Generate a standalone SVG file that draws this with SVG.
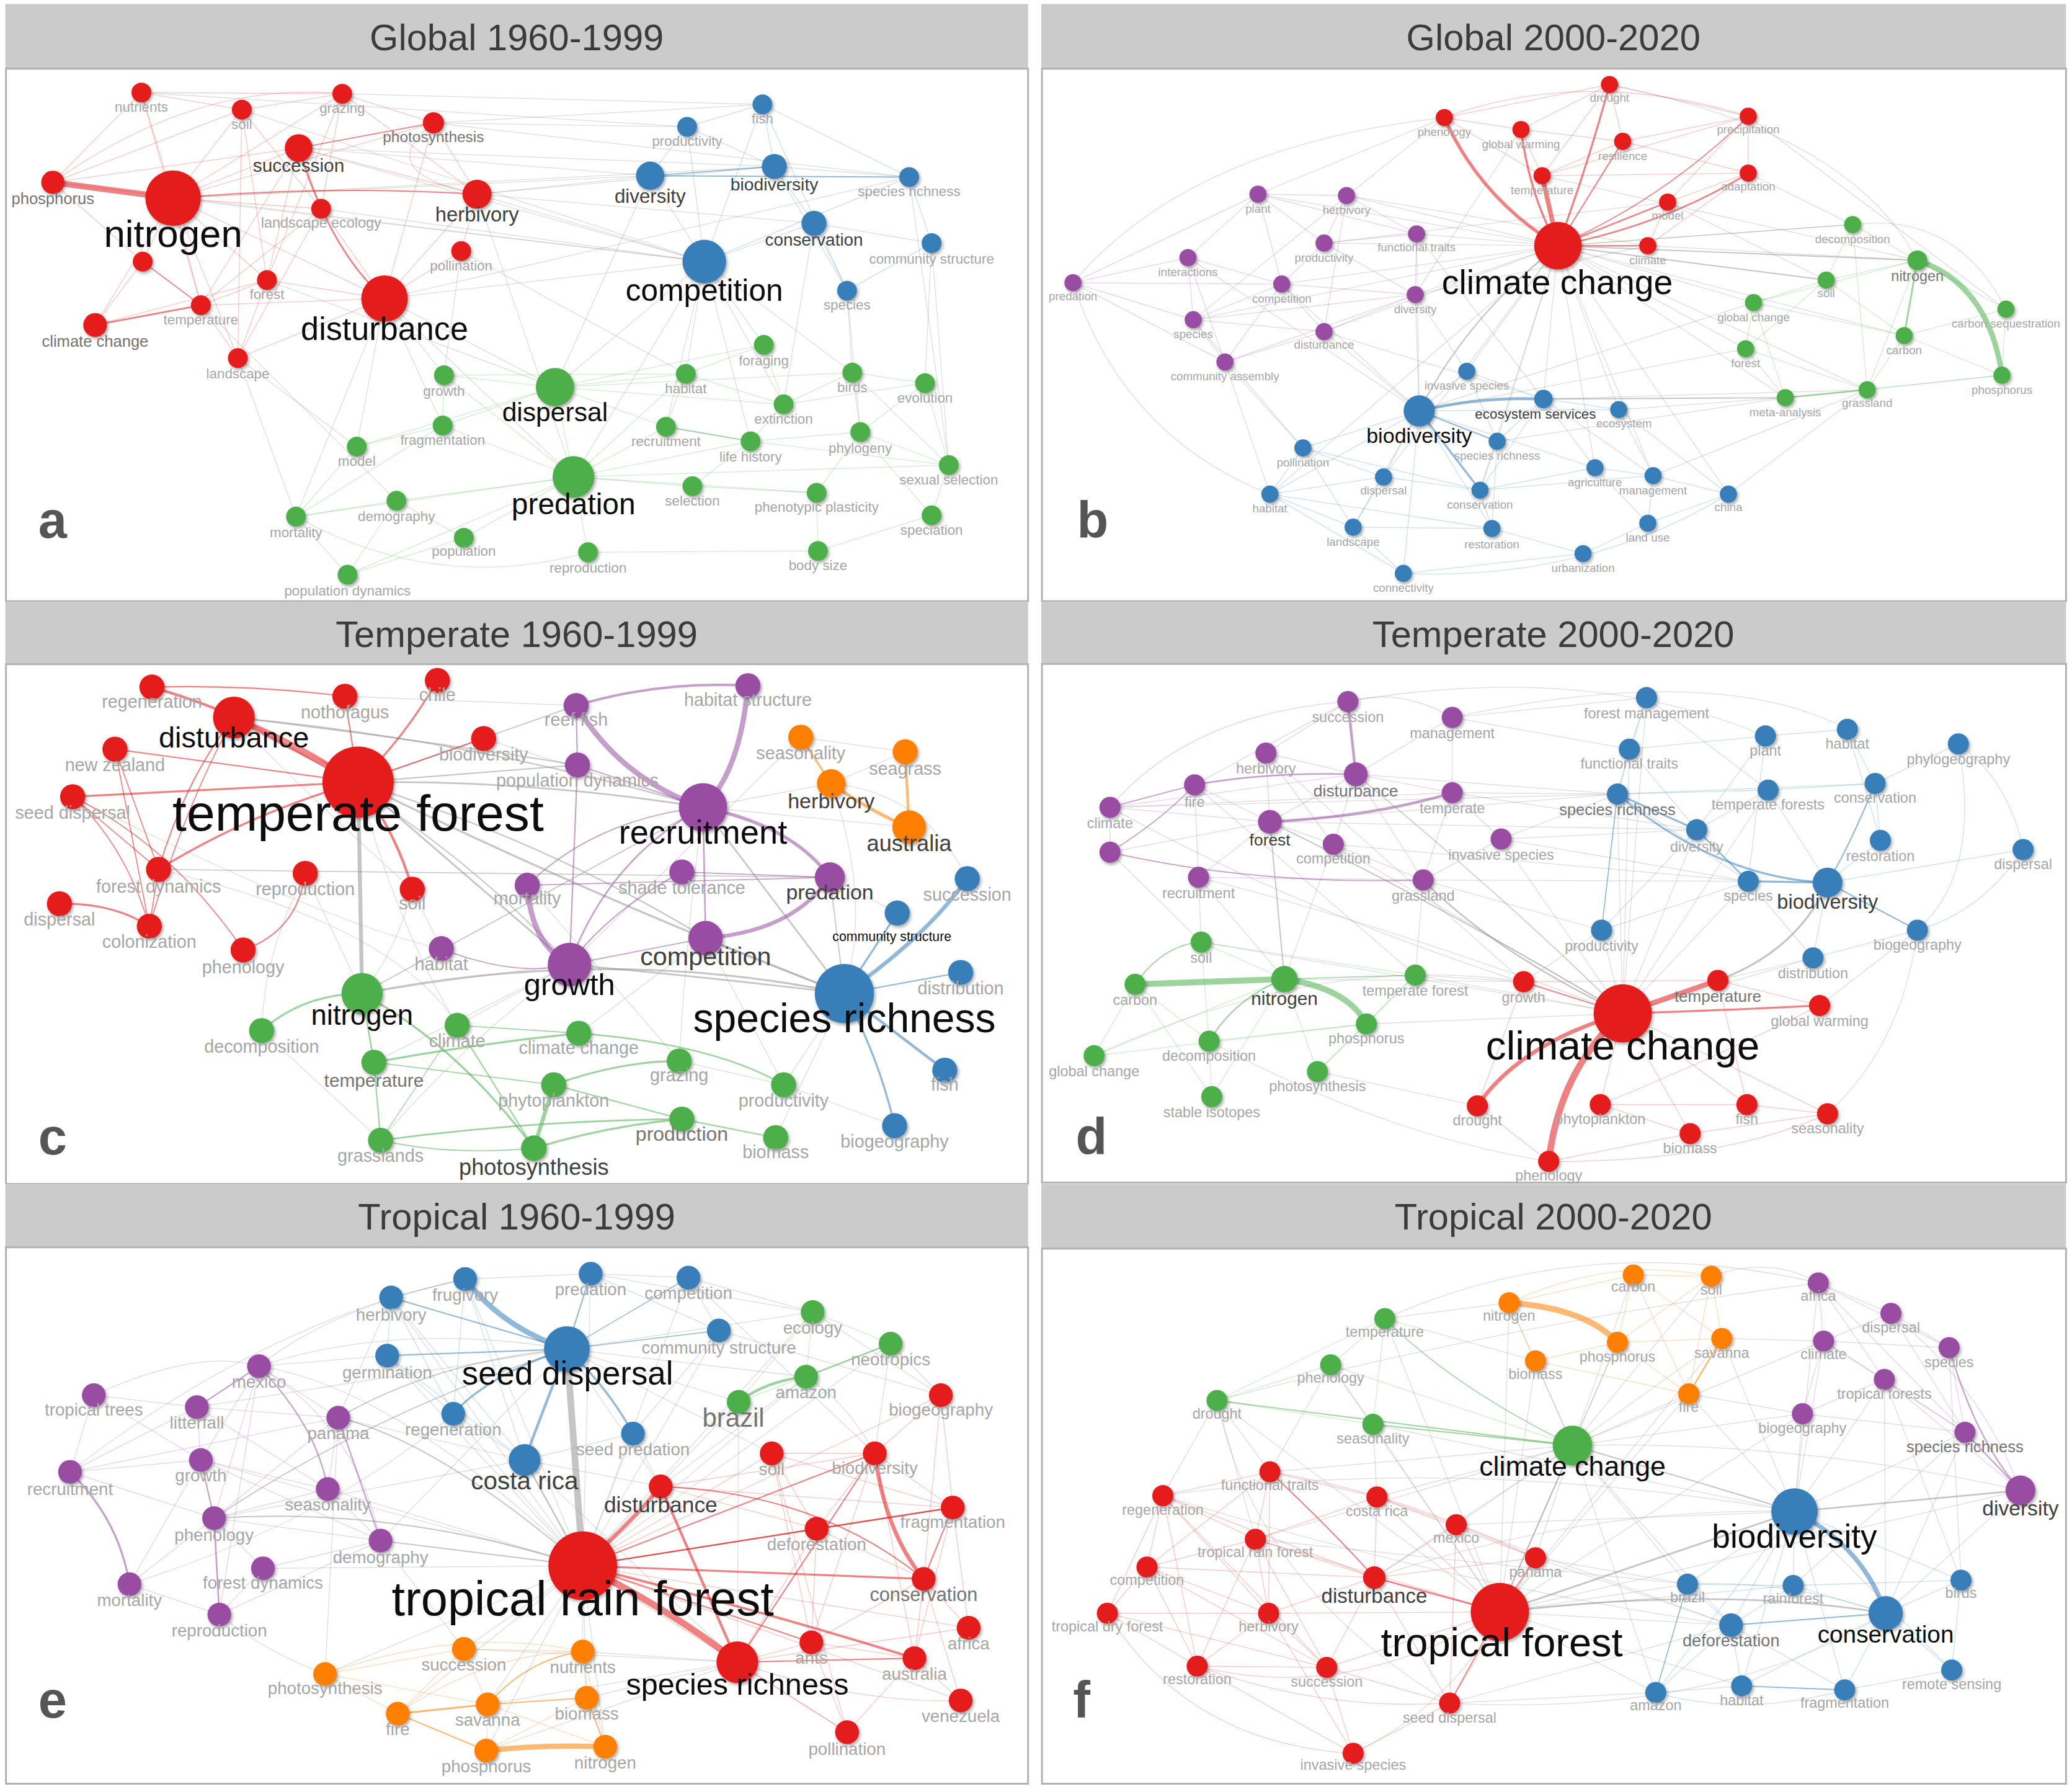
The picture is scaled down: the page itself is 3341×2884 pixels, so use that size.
<svg xmlns="http://www.w3.org/2000/svg" width="3341" height="2884" viewBox="0 0 3341 2884">
<defs>
<filter id="sh" x="-60%" y="-60%" width="220%" height="220%"><feDropShadow dx="1" dy="1.4" stdDeviation="1.2" flood-color="#000" flood-opacity="0.35"/></filter>
<style>
text{font-family:"Liberation Sans",Arial,Helvetica,sans-serif;text-anchor:middle}
.hd{fill:#cbcbcb}
.bd{fill:#fff;stroke:#b2b2b2;stroke-width:1.4}
.tt{font-size:28px;fill:#3b3b3b}
.pl{font-size:39px;font-weight:bold;fill:#555;text-anchor:start}
.n{filter:url(#sh)}
.r{fill:#e41a1c}.b{fill:#377eb8}.g{fill:#4daf4a}.p{fill:#984ea3}.o{fill:#ff7f00}
.l{fill:#a6a6a6}.m{fill:#747474}.d{fill:#404040}.k{fill:#0d0d0d}
.E path{fill:none;stroke-linecap:round}
.er{stroke:#e41a1c;stroke-opacity:.25;stroke-width:.6}
.eb{stroke:#377eb8;stroke-opacity:.25;stroke-width:.6}
.eg{stroke:#4daf4a;stroke-opacity:.25;stroke-width:.6}
.ep{stroke:#984ea3;stroke-opacity:.25;stroke-width:.6}
.eo{stroke:#ff7f00;stroke-opacity:.28;stroke-width:.6}
.ek{stroke:#808080;stroke-opacity:.27;stroke-width:.6}
.sr{stroke:#e41a1c;stroke-opacity:.55}
.sb{stroke:#377eb8;stroke-opacity:.55}
.sg{stroke:#4daf4a;stroke-opacity:.55}
.sp{stroke:#984ea3;stroke-opacity:.55}
.so{stroke:#ff7f00;stroke-opacity:.55}
.sk{stroke:#8c8c8c;stroke-opacity:.5}
.fa{font-size:10.5px}.fb{font-size:8.8px}.fc{font-size:13.5px}.fd{font-size:11px}.fe{font-size:13px}.ff{font-size:11px}
</style>
</defs>
<rect x="0" y="0" width="3341" height="2884" fill="#fff"/>
<g transform="scale(2.13074 2.13)">

<g id="frames">
<g id="frame-a"><rect class="hd" x="4" y="3" width="774" height="49"/><rect class="bd" x="4.5" y="52" width="773.5" height="403"/><text class="tt" x="391" y="38">Global 1960-1999</text></g>
<g id="frame-b"><rect class="hd" x="788" y="3" width="775.5" height="49"/><rect class="bd" x="788.5" y="52" width="775" height="403"/><text class="tt" x="1175.5" y="38">Global 2000-2020</text></g>
<g id="frame-c"><rect class="hd" x="4" y="455.5" width="774" height="47.2"/><rect class="bd" x="4.5" y="502.7" width="773.5" height="393.3"/><text class="tt" x="391" y="489.5">Temperate 1960-1999</text></g>
<g id="frame-d"><rect class="hd" x="788" y="455.5" width="775.5" height="47"/><rect class="bd" x="788.5" y="502.5" width="775" height="392.5"/><text class="tt" x="1175.5" y="489.5">Temperate 2000-2020</text></g>
<g id="frame-e"><rect class="hd" x="4" y="896" width="774" height="48"/><rect class="bd" x="4.5" y="944" width="773.5" height="406"/><text class="tt" x="391" y="930.5">Tropical 1960-1999</text></g>
<g id="frame-f"><rect class="hd" x="788" y="896" width="775.5" height="49"/><rect class="bd" x="788.5" y="945" width="775" height="405"/><text class="tt" x="1175.5" y="930.5">Tropical 2000-2020</text></g>
</g>

<!-- ================= PANEL A ================= -->
<g id="a-edges" class="E">
<path class="er" d="M131,150L107,70"/><path class="er" d="M131,150L183,83"/><path class="er" d="M131,150L259,71"/><path class="er" d="M131,150L243,158"/><path class="er" d="M131,150L108,198"/><path class="er" d="M131,150L202,212"/><path class="er" d="M131,150L152,231"/><path class="er" d="M131,150L72,246"/><path class="er" d="M131,150L291,226"/><path class="er" d="M131,150L180,271"/><path class="er" d="M131,150L226,112"/><path class="er" d="M131,150L328,93"/>
<path class="er" d="M40,138L107,70"/><path class="er" d="M40,138L183,83"/><path class="er" d="M40,138L108,198"/><path class="er" d="M40,138L226,112"/><path class="er" d="M40,138Q150,60 259,71"/>
<path class="er" d="M107,70L183,83"/><path class="er" d="M107,70L259,71"/><path class="er" d="M107,70L152,231"/><path class="er" d="M183,83L259,71"/><path class="er" d="M183,83L243,158"/><path class="er" d="M183,83L202,212"/><path class="er" d="M183,83L180,271"/><path class="er" d="M259,71L328,93"/><path class="er" d="M259,71L361,147"/><path class="er" d="M259,71L243,158"/><path class="er" d="M259,71L202,212"/><path class="er" d="M328,93L361,147"/><path class="er" d="M328,93L291,226"/><path class="er" d="M226,112L243,158"/><path class="er" d="M226,112L361,147"/><path class="er" d="M226,112L202,212"/><path class="er" d="M226,112L152,231"/><path class="er" d="M243,158L291,226"/><path class="er" d="M243,158L180,271"/><path class="er" d="M243,158L152,231"/><path class="er" d="M361,147L349,190"/><path class="er" d="M361,147L291,226"/><path class="er" d="M291,226L202,212"/><path class="er" d="M291,226L152,231"/><path class="er" d="M291,226L180,271"/><path class="er" d="M291,226L349,190"/><path class="er" d="M202,212L152,231"/><path class="er" d="M202,212L180,271"/><path class="er" d="M108,198L72,246"/><path class="er" d="M152,231L180,271"/><path class="er" d="M72,246L202,212"/><path class="er" d="M328,93Q280,130 361,147"/>
<path class="eb" d="M492,133L520,96"/><path class="eb" d="M520,96L577,79"/><path class="eb" d="M577,79L586,126"/><path class="eb" d="M586,126L616,169"/><path class="eb" d="M586,126L688,134"/><path class="eb" d="M616,169L533,198"/><path class="eb" d="M616,169L705,184"/><path class="eb" d="M688,134L705,184"/><path class="eb" d="M705,184L641,220"/><path class="eb" d="M616,169L641,220"/><path class="eb" d="M533,198L492,133"/><path class="eb" d="M533,198L520,96"/><path class="eb" d="M533,198L577,79"/><path class="eb" d="M586,126L641,220"/><path class="eb" d="M577,79L688,134"/><path class="eb" d="M577,79L641,220"/><path class="eb" d="M520,96L586,126"/><path class="eb" d="M533,198L688,134"/>
<path class="eg" d="M420,293L336,284"/><path class="eg" d="M420,293L335,322"/><path class="eg" d="M420,293L519,283"/><path class="eg" d="M420,293L504,323"/><path class="eg" d="M420,293L434,361"/><path class="eg" d="M420,293L270,338"/><path class="eg" d="M420,293L593,306"/><path class="eg" d="M420,293L578,261"/><path class="eg" d="M420,293L645,282"/><path class="eg" d="M434,361L504,323"/><path class="eg" d="M434,361L568,334"/><path class="eg" d="M434,361L524,368"/><path class="eg" d="M434,361L445,418"/><path class="eg" d="M434,361L224,391"/><path class="eg" d="M434,361L300,379"/><path class="eg" d="M434,361L351,407"/><path class="eg" d="M434,361L263,435"/><path class="eg" d="M434,361L519,283"/><path class="eg" d="M434,361L718,352"/><path class="eg" d="M434,361L618,373"/><path class="eg" d="M434,361L335,322"/><path class="eg" d="M434,361L336,284"/><path class="eg" d="M336,284L335,322"/><path class="eg" d="M335,322L270,338"/><path class="eg" d="M270,338L224,391"/><path class="eg" d="M224,391L300,379"/><path class="eg" d="M224,391L263,435"/><path class="eg" d="M300,379L263,435"/><path class="eg" d="M300,379L351,407"/><path class="eg" d="M351,407L263,435"/><path class="eg" d="M224,391L335,322"/><path class="eg" d="M519,283L504,323"/><path class="eg" d="M519,283L593,306"/><path class="eg" d="M568,334L593,306"/><path class="eg" d="M568,334L651,327"/><path class="eg" d="M593,306L578,261"/><path class="eg" d="M593,306L645,282"/><path class="eg" d="M593,306L700,290"/><path class="eg" d="M645,282L700,290"/><path class="eg" d="M645,282L651,327"/><path class="eg" d="M700,290L651,327"/><path class="eg" d="M700,290L718,352"/><path class="eg" d="M718,352L705,390"/><path class="eg" d="M651,327L718,352"/><path class="eg" d="M651,327L618,373"/><path class="eg" d="M618,373L524,368"/><path class="eg" d="M618,373L619,417"/><path class="eg" d="M619,417L705,390"/><path class="eg" d="M524,368L568,334"/><path class="eg" d="M619,417L445,418"/><path class="eg" d="M578,261L519,283"/><path class="eg" d="M336,284L519,283"/><path class="eg" d="M568,334L718,352"/><path class="eg" d="M651,327L705,390"/><path class="eg" d="M645,282L718,352"/><path class="eg" d="M224,391Q330,450 445,418"/>
<path class="ek" d="M131,150L533,198"/><path class="ek" d="M131,150L492,133"/><path class="ek" d="M131,150L586,126"/><path class="ek" d="M291,226L533,198"/><path class="ek" d="M291,226L420,293"/><path class="ek" d="M291,226L434,361"/><path class="ek" d="M291,226L336,284"/><path class="ek" d="M291,226L270,338"/><path class="ek" d="M291,226L335,322"/><path class="ek" d="M291,226L688,134"/><path class="ek" d="M361,147L492,133"/><path class="ek" d="M361,147L533,198"/><path class="ek" d="M361,147L616,169"/><path class="ek" d="M226,112L492,133"/><path class="ek" d="M226,112L586,126"/><path class="ek" d="M328,93L520,96"/><path class="ek" d="M328,93L577,79"/><path class="ek" d="M259,71L577,79"/><path class="ek" d="M107,70L520,96"/><path class="ek" d="M533,198L420,293"/><path class="ek" d="M533,198L434,361"/><path class="ek" d="M533,198L519,283"/><path class="ek" d="M533,198L593,306"/><path class="ek" d="M533,198L568,334"/><path class="ek" d="M533,198L504,323"/><path class="ek" d="M533,198L578,261"/><path class="ek" d="M492,133L420,293"/><path class="ek" d="M180,271L270,338"/><path class="ek" d="M180,271L224,391"/><path class="ek" d="M243,158L533,198"/><path class="ek" d="M641,220L645,282"/><path class="ek" d="M641,220L651,327"/><path class="ek" d="M705,184L718,352"/><path class="ek" d="M705,184L700,290"/><path class="ek" d="M616,169L593,306"/><path class="ek" d="M152,231L300,379"/><path class="ek" d="M202,212L420,293"/><path class="ek" d="M361,147L434,361"/><path class="ek" d="M349,190L519,283"/><path class="ek" d="M349,190L336,284"/><path class="ek" d="M183,83L533,198"/><path class="ek" d="M533,198L645,282"/><path class="ek" d="M688,134L718,352"/><path class="ek" d="M226,112L533,198"/><path class="ek" d="M40,138L533,198"/><path class="ek" d="M291,226L224,391"/><path class="ek" d="M361,147L586,126"/><path class="ek" d="M328,93L688,134"/>
<path class="sr" stroke-width="4.5" d="M40,138L131,150"/>
<path class="sr" stroke-width="1.3" d="M226,112Q250,190 291,226"/>
<path class="sr" stroke-width="1" d="M131,150Q250,140 361,147"/>
<path class="sr" stroke-width=".8" d="M226,112L328,93"/>
<path class="sr" stroke-width="1.3" d="M72,246L152,231"/>
<path class="sr" stroke-width=".8" d="M108,198L152,231"/>
<path class="sb" stroke-width=".9" d="M492,133L688,134"/>
<path class="sb" stroke-width=".8" d="M492,133L586,126"/>
<path class="sg" stroke-width=".9" d="M504,323L568,334"/>
</g>
<g id="a-nodes" class="fa">
<g id="a-nutrients"><circle class="n r" cx="107" cy="70" r="7.5"/><text class="l" x="107" y="84.5">nutrients</text></g>
<g id="a-soil"><circle class="n r" cx="183" cy="83" r="7.5"/><text class="l" x="183" y="97.5">soil</text></g>
<g id="a-grazing"><circle class="n r" cx="259" cy="71" r="7.5"/><text class="l" x="259" y="85.5">grazing</text></g>
<g id="a-photosynthesis"><circle class="n r" cx="328" cy="93" r="8"/><text class="m" x="328" y="107.5" font-size="11.5">photosynthesis</text></g>
<g id="a-landscape-ecology"><circle class="n r" cx="243" cy="158" r="7.5"/><text class="l" x="243" y="172.5" font-size="11">landscape ecology</text></g>
<g id="a-pollination"><circle class="n r" cx="349" cy="190" r="7.5"/><text class="l" x="349" y="204.5">pollination</text></g>
<g id="a-node-unlabeled"><circle class="n r" cx="108" cy="198" r="7.5"/></g>
<g id="a-forest"><circle class="n r" cx="202" cy="212" r="7.5"/><text class="l" x="202" y="226.5">forest</text></g>
<g id="a-temperature"><circle class="n r" cx="152" cy="231" r="7.5"/><text class="l" x="152" y="245.5">temperature</text></g>
<g id="a-landscape"><circle class="n r" cx="180" cy="271" r="7.5"/><text class="l" x="180" y="286.5">landscape</text></g>
<g id="a-climate-change"><circle class="n r" cx="72" cy="246" r="9"/><text class="m" x="72" y="262.6" font-size="12">climate change</text></g>
<g id="a-phosphorus"><circle class="n r" cx="40" cy="138" r="8.8"/><text class="m" x="40" y="154.6" font-size="12">phosphorus</text></g>
<g id="a-succession"><circle class="n r" cx="226" cy="112" r="10.5"/><text class="d" x="226" y="130" font-size="14">succession</text></g>
<g id="a-herbivory"><circle class="n r" cx="361" cy="147" r="11"/><text class="d" x="361" y="167.5" font-size="15.4">herbivory</text></g>
<g id="a-fish"><circle class="n b" cx="577" cy="79" r="7.5"/><text class="l" x="577" y="93.5">fish</text></g>
<g id="a-productivity"><circle class="n b" cx="520" cy="96" r="7.5"/><text class="l" x="520" y="110.5">productivity</text></g>
<g id="a-species-richness"><circle class="n b" cx="688" cy="134" r="7.5"/><text class="l" x="688" y="148.5">species richness</text></g>
<g id="a-community-structure"><circle class="n b" cx="705" cy="184" r="7.5"/><text class="l" x="705" y="199.5">community structure</text></g>
<g id="a-species"><circle class="n b" cx="641" cy="220" r="7.5"/><text class="l" x="641" y="234.5">species</text></g>
<g id="a-diversity"><circle class="n b" cx="492" cy="133" r="10.7"/><text class="d" x="492" y="153.5" font-size="14.7">diversity</text></g>
<g id="a-biodiversity"><circle class="n b" cx="586" cy="126" r="9.5"/><text class="d" x="586" y="144" font-size="13.3">biodiversity</text></g>
<g id="a-conservation"><circle class="n b" cx="616" cy="169" r="9.5"/><text class="d" x="616" y="186" font-size="13.1">conservation</text></g>
<g id="a-growth"><circle class="n g" cx="336" cy="284" r="7.5"/><text class="l" x="336" y="299.5">growth</text></g>
<g id="a-fragmentation"><circle class="n g" cx="335" cy="322" r="7.5"/><text class="l" x="335" y="336.5">fragmentation</text></g>
<g id="a-model"><circle class="n g" cx="270" cy="338" r="7.5"/><text class="l" x="270" y="352.5">model</text></g>
<g id="a-demography"><circle class="n g" cx="300" cy="379" r="7.5"/><text class="l" x="300" y="394.5">demography</text></g>
<g id="a-mortality"><circle class="n g" cx="224" cy="391" r="7.5"/><text class="l" x="224" y="406.5">mortality</text></g>
<g id="a-population"><circle class="n g" cx="351" cy="407" r="7.5"/><text class="l" x="351" y="420.5">population</text></g>
<g id="a-population-dynamics"><circle class="n g" cx="263" cy="435" r="7.5"/><text class="l" x="263" y="450.5">population dynamics</text></g>
<g id="a-foraging"><circle class="n g" cx="578" cy="261" r="7.5"/><text class="l" x="578" y="276.5">foraging</text></g>
<g id="a-habitat"><circle class="n g" cx="519" cy="283" r="7.5"/><text class="l" x="519" y="297.5">habitat</text></g>
<g id="a-birds"><circle class="n g" cx="645" cy="282" r="7.5"/><text class="l" x="645" y="296.5">birds</text></g>
<g id="a-evolution"><circle class="n g" cx="700" cy="290" r="7.5"/><text class="l" x="700" y="304.5">evolution</text></g>
<g id="a-extinction"><circle class="n g" cx="593" cy="306" r="7.5"/><text class="l" x="593" y="320.5">extinction</text></g>
<g id="a-recruitment"><circle class="n g" cx="504" cy="323" r="7.5"/><text class="l" x="504" y="337.5">recruitment</text></g>
<g id="a-life-history"><circle class="n g" cx="568" cy="334" r="7.5"/><text class="l" x="568" y="349.5">life history</text></g>
<g id="a-phylogeny"><circle class="n g" cx="651" cy="327" r="7.5"/><text class="l" x="651" y="342.5">phylogeny</text></g>
<g id="a-selection"><circle class="n g" cx="524" cy="368" r="7.5"/><text class="l" x="524" y="382.5">selection</text></g>
<g id="a-phenotypic-plasticity"><circle class="n g" cx="618" cy="373" r="7.5"/><text class="l" x="618" y="387.5">phenotypic plasticity</text></g>
<g id="a-sexual-selection"><circle class="n g" cx="718" cy="352" r="7.5"/><text class="l" x="718" y="366.5">sexual selection</text></g>
<g id="a-speciation"><circle class="n g" cx="705" cy="390" r="7.5"/><text class="l" x="705" y="404.5">speciation</text></g>
<g id="a-reproduction"><circle class="n g" cx="445" cy="418" r="7.5"/><text class="l" x="445" y="433.5">reproduction</text></g>
<g id="a-body-size"><circle class="n g" cx="619" cy="417" r="7.5"/><text class="l" x="619" y="431.5">body size</text></g>
<g id="a-nitrogen"><circle class="n r" cx="131" cy="150" r="21"/><text class="k" x="131" y="187" font-size="29">nitrogen</text></g>
<g id="a-disturbance"><circle class="n r" cx="291" cy="226" r="17.6"/><text class="k" x="291" y="257.5" font-size="24.5">disturbance</text></g>
<g id="a-competition"><circle class="n b" cx="533" cy="198" r="16.5"/><text class="k" x="533" y="227.7" font-size="23.3">competition</text></g>
<g id="a-dispersal"><circle class="n g" cx="420" cy="293" r="14.5"/><text class="k" x="420" y="318.8" font-size="20">dispersal</text></g>
<g id="a-predation"><circle class="n g" cx="434" cy="361" r="15.8"/><text class="k" x="434" y="389" font-size="22.5">predation</text></g>
</g>

<!-- ================= PANEL B ================= -->
<g id="b-edges" class="E">
<path class="ep" d="M812,214L899,195"/><path class="ep" d="M812,214L970,215"/><path class="ep" d="M812,214L903,242"/><path class="ep" d="M812,214L952,147"/><path class="ep" d="M812,214L927,274"/><path class="ep" d="M899,195L970,215"/><path class="ep" d="M899,195L903,242"/><path class="ep" d="M899,195L952,147"/><path class="ep" d="M899,195L927,274"/><path class="ep" d="M952,147L1019,148"/><path class="ep" d="M952,147L1002,184"/><path class="ep" d="M952,147L970,215"/><path class="ep" d="M952,147L1072,177"/><path class="ep" d="M1019,148L1002,184"/><path class="ep" d="M1019,148L1072,177"/><path class="ep" d="M1019,148L1002,251"/><path class="ep" d="M1002,184L970,215"/><path class="ep" d="M1002,184L1072,177"/><path class="ep" d="M1002,184L1071,223"/><path class="ep" d="M970,215L1071,223"/><path class="ep" d="M970,215L903,242"/><path class="ep" d="M970,215L1002,251"/><path class="ep" d="M970,215L927,274"/><path class="ep" d="M903,242L1002,251"/><path class="ep" d="M903,242L1071,223"/><path class="ep" d="M903,242L927,274"/><path class="ep" d="M1002,251L927,274"/><path class="ep" d="M1002,251L1071,223"/><path class="ep" d="M1072,177L1071,223"/><path class="ep" d="M927,274L1071,223"/>
<path class="er" d="M1093,89L1151,98"/><path class="er" d="M1093,89L1218,64"/><path class="er" d="M1093,89L1167,133"/><path class="er" d="M1151,98L1218,64"/><path class="er" d="M1151,98L1167,133"/><path class="er" d="M1151,98L1228,107"/><path class="er" d="M1218,64L1323,88"/><path class="er" d="M1218,64L1228,107"/><path class="er" d="M1228,107L1323,88"/><path class="er" d="M1228,107L1323,131"/><path class="er" d="M1323,88L1323,131"/><path class="er" d="M1323,88L1262,153"/><path class="er" d="M1323,131L1262,153"/><path class="er" d="M1262,153L1247,186"/><path class="er" d="M1167,133L1228,107"/><path class="er" d="M1167,133L1323,88"/><path class="er" d="M1167,133L1323,131"/><path class="er" d="M1247,186L1323,131"/><path class="er" d="M1093,89Q1200,50 1323,88"/><path class="er" d="M1167,133L1218,64"/>
<path class="eg" d="M1402,170L1451,197"/><path class="eg" d="M1402,170L1382,212"/><path class="eg" d="M1402,170L1413,295"/><path class="eg" d="M1451,197L1382,212"/><path class="eg" d="M1451,197L1518,234"/><path class="eg" d="M1451,197L1327,229"/><path class="eg" d="M1451,197L1413,295"/><path class="eg" d="M1382,212L1327,229"/><path class="eg" d="M1382,212L1441,254"/><path class="eg" d="M1382,212L1321,264"/><path class="eg" d="M1327,229L1321,264"/><path class="eg" d="M1327,229L1441,254"/><path class="eg" d="M1518,234L1441,254"/><path class="eg" d="M1518,234L1515,284"/><path class="eg" d="M1441,254L1413,295"/><path class="eg" d="M1441,254L1515,284"/><path class="eg" d="M1321,264L1351,301"/><path class="eg" d="M1321,264L1413,295"/><path class="eg" d="M1413,295L1515,284"/><path class="eg" d="M1351,301L1515,284"/><path class="eg" d="M1327,229L1351,301"/><path class="eg" d="M1402,170Q1480,160 1518,234"/>
<path class="eb" d="M1074,311L1110,281"/><path class="eb" d="M1074,311L986,339"/><path class="eb" d="M1074,311L1047,361"/><path class="eb" d="M1074,311L961,374"/><path class="eb" d="M1074,311L1024,399"/><path class="eb" d="M1074,311L1129,400"/><path class="eb" d="M1074,311L1062,434"/><path class="eb" d="M1074,311L1225,310"/><path class="eb" d="M1074,311L1207,354"/><path class="eb" d="M1110,281L1168,302"/><path class="eb" d="M1110,281L1133,334"/><path class="eb" d="M1168,302L1225,310"/><path class="eb" d="M1168,302L1133,334"/><path class="eb" d="M1168,302L1207,354"/><path class="eb" d="M1168,302L1251,360"/><path class="eb" d="M1168,302L1120,371"/><path class="eb" d="M1133,334L1120,371"/><path class="eb" d="M1133,334L1129,400"/><path class="eb" d="M986,339L961,374"/><path class="eb" d="M986,339L1047,361"/><path class="eb" d="M986,339L1120,371"/><path class="eb" d="M1047,361L1120,371"/><path class="eb" d="M1047,361L1024,399"/><path class="eb" d="M961,374L1024,399"/><path class="eb" d="M961,374L1062,434"/><path class="eb" d="M1024,399L1062,434"/><path class="eb" d="M1024,399L1129,400"/><path class="eb" d="M1120,371L1129,400"/><path class="eb" d="M1120,371L1207,354"/><path class="eb" d="M1120,371L1251,360"/><path class="eb" d="M1129,400L1198,419"/><path class="eb" d="M1062,434L1198,419"/><path class="eb" d="M1207,354L1251,360"/><path class="eb" d="M1207,354L1247,396"/><path class="eb" d="M1251,360L1247,396"/><path class="eb" d="M1251,360L1308,374"/><path class="eb" d="M1247,396L1198,419"/><path class="eb" d="M1225,310L1251,360"/><path class="eb" d="M1225,310L1308,374"/><path class="eb" d="M1308,374L1247,396"/><path class="eb" d="M961,374L1047,361"/><path class="eb" d="M986,339L1024,399"/><path class="eb" d="M961,374L1129,400"/><path class="eb" d="M1062,434Q1200,440 1308,374"/>
<path class="ek" d="M1179,186L952,147"/><path class="ek" d="M1179,186L1019,148"/><path class="ek" d="M1179,186L1002,184"/><path class="ek" d="M1179,186L1072,177"/><path class="ek" d="M1179,186L1071,223"/><path class="ek" d="M1179,186L970,215"/><path class="ek" d="M1179,186L1110,281"/><path class="ek" d="M1179,186L1168,302"/><path class="ek" d="M1179,186L1133,334"/><path class="ek" d="M1179,186L1120,371"/><path class="ek" d="M1179,186L1327,229"/><path class="ek" d="M1179,186L1321,264"/><path class="ek" d="M1179,186L1441,254"/><path class="ek" d="M1179,186L1351,301"/><path class="ek" d="M1179,186L1413,295"/><path class="ek" d="M1179,186L1207,354"/><path class="ek" d="M1179,186L1251,360"/><path class="ek" d="M1179,186L1225,310"/><path class="ek" d="M1179,186L1308,374"/><path class="ek" d="M1179,186L1047,361"/><path class="ek" d="M1179,186L903,242"/><path class="ek" d="M1179,186L1002,251"/><path class="ek" d="M1179,186L961,374"/><path class="ek" d="M1071,223L1074,311"/><path class="ek" d="M1072,177L1074,311"/><path class="ek" d="M970,215L1074,311"/><path class="ek" d="M1002,251L1074,311"/><path class="ek" d="M903,242L986,339"/><path class="ek" d="M927,274L961,374"/><path class="ek" d="M927,274L986,339"/><path class="ek" d="M812,214Q850,330 961,374"/><path class="ek" d="M812,214Q900,110 1093,89"/><path class="ek" d="M899,195L1074,311"/><path class="ek" d="M952,147L1093,89"/><path class="ek" d="M1262,153L1382,212"/><path class="ek" d="M1247,186L1451,197"/><path class="ek" d="M1167,133L1451,197"/><path class="ek" d="M1218,64Q1400,100 1451,197"/><path class="ek" d="M1323,88L1518,234"/><path class="ek" d="M1323,131L1402,170"/><path class="ek" d="M1225,310L1351,301"/><path class="ek" d="M1308,374L1413,295"/><path class="ek" d="M1251,360L1413,295"/><path class="ek" d="M1074,311L1321,264"/><path class="ek" d="M1074,311L1327,229"/><path class="ek" d="M1168,302L1413,295"/><path class="ek" d="M1133,334L1351,301"/><path class="ek" d="M1072,177L1168,302"/><path class="ek" d="M1071,223L1110,281"/><path class="ek" d="M1093,89L903,242"/><path class="ek" d="M1019,148L1247,186"/><path class="ek" d="M1002,184L1262,153"/><path class="ek" d="M1002,251L1168,302"/><path class="ek" d="M1071,223L1247,186"/><path class="ek" d="M1151,98L1071,223"/>
<path class="sr" stroke-width="2.5" d="M1093,89Q1120,150 1179,186"/>
<path class="sr" stroke-width="1.6" d="M1151,98Q1158,150 1179,186"/>
<path class="sr" stroke-width="3.5" d="M1167,133L1179,186"/>
<path class="sr" stroke-width="1.5" d="M1218,64Q1200,130 1179,186"/>
<path class="sr" stroke-width="1" d="M1228,107L1179,186"/>
<path class="sr" stroke-width="1.2" d="M1262,153L1179,186"/>
<path class="sr" stroke-width="1.2" d="M1179,186Q1260,170 1323,131"/>
<path class="sr" stroke-width=".8" d="M1179,186Q1260,150 1323,88"/>
<path class="sr" stroke-width="1" d="M1179,186L1247,186"/>
<path class="sg" stroke-width="4" d="M1451,197Q1505,215 1515,284"/>
<path class="sg" stroke-width="1.3" d="M1451,197L1441,254"/>
<path class="sg" stroke-width="1" d="M1351,301L1413,295"/>
<path class="sb" stroke-width="2.2" d="M1074,311Q1120,300 1168,302"/>
<path class="sb" stroke-width="1.5" d="M1074,311Q1100,345 1120,371"/>
<path class="sb" stroke-width="1" d="M1074,311L1133,334"/>
<path class="sk" stroke-width="1" d="M1074,311Q1110,240 1179,186"/>
<path class="sk" stroke-width=".9" d="M1179,186L1451,197"/>
<path class="sk" stroke-width=".9" d="M1179,186L1382,212"/>
<path class="sk" stroke-width=".7" d="M1179,186L1402,170"/>
<path class="sk" stroke-width=".9" d="M1168,302L1351,301"/>
</g>
<g id="b-nodes" class="fb">
<g id="b-predation"><circle class="n p" cx="812" cy="214" r="6.5"/><text class="l" x="812" y="227">predation</text></g>
<g id="b-interactions"><circle class="n p" cx="899" cy="195" r="6.5"/><text class="l" x="899" y="209">interactions</text></g>
<g id="b-plant"><circle class="n p" cx="952" cy="147" r="6.5"/><text class="l" x="952" y="161">plant</text></g>
<g id="b-herbivory"><circle class="n p" cx="1019" cy="148" r="6.5"/><text class="l" x="1019" y="162">herbivory</text></g>
<g id="b-productivity"><circle class="n p" cx="1002" cy="184" r="6.5"/><text class="l" x="1002" y="198">productivity</text></g>
<g id="b-functional-traits"><circle class="n p" cx="1072" cy="177" r="6.5"/><text class="l" x="1072" y="190">functional traits</text></g>
<g id="b-competition"><circle class="n p" cx="970" cy="215" r="6.5"/><text class="l" x="970" y="229">competition</text></g>
<g id="b-diversity"><circle class="n p" cx="1071" cy="223" r="6.5"/><text class="l" x="1071" y="237">diversity</text></g>
<g id="b-species"><circle class="n p" cx="903" cy="242" r="6.5"/><text class="l" x="903" y="256">species</text></g>
<g id="b-disturbance"><circle class="n p" cx="1002" cy="251" r="6.5"/><text class="l" x="1002" y="264">disturbance</text></g>
<g id="b-community-assembly"><circle class="n p" cx="927" cy="274" r="6.5"/><text class="l" x="927" y="288">community assembly</text></g>
<g id="b-phenology"><circle class="n r" cx="1093" cy="89" r="6.5"/><text class="l" x="1093" y="103">phenology</text></g>
<g id="b-global-warming"><circle class="n r" cx="1151" cy="98" r="6.5"/><text class="l" x="1151" y="112">global warming</text></g>
<g id="b-temperature"><circle class="n r" cx="1167" cy="133" r="6.5"/><text class="l" x="1167" y="147">temperature</text></g>
<g id="b-drought"><circle class="n r" cx="1218" cy="64" r="6.5"/><text class="l" x="1218" y="77">drought</text></g>
<g id="b-precipitation"><circle class="n r" cx="1323" cy="88" r="6.5"/><text class="l" x="1323" y="101">precipitation</text></g>
<g id="b-resilience"><circle class="n r" cx="1228" cy="107" r="6.5"/><text class="l" x="1228" y="121">resilience</text></g>
<g id="b-adaptation"><circle class="n r" cx="1323" cy="131" r="6.5"/><text class="l" x="1323" y="144">adaptation</text></g>
<g id="b-model"><circle class="n r" cx="1262" cy="153" r="6.5"/><text class="l" x="1262" y="166">model</text></g>
<g id="b-climate"><circle class="n r" cx="1247" cy="186" r="6.5"/><text class="l" x="1247" y="200">climate</text></g>
<g id="b-decomposition"><circle class="n g" cx="1402" cy="170" r="6.5"/><text class="l" x="1402" y="184">decomposition</text></g>
<g id="b-soil"><circle class="n g" cx="1382" cy="212" r="6.5"/><text class="l" x="1382" y="225">soil</text></g>
<g id="b-global-change"><circle class="n g" cx="1327" cy="229" r="6.5"/><text class="l" x="1327" y="243">global change</text></g>
<g id="b-carbon-sequestration"><circle class="n g" cx="1518" cy="234" r="6.5"/><text class="l" x="1518" y="248">carbon sequestration</text></g>
<g id="b-carbon"><circle class="n g" cx="1441" cy="254" r="6.5"/><text class="l" x="1441" y="268">carbon</text></g>
<g id="b-forest"><circle class="n g" cx="1321" cy="264" r="6.5"/><text class="l" x="1321" y="278">forest</text></g>
<g id="b-phosphorus"><circle class="n g" cx="1515" cy="284" r="6.5"/><text class="l" x="1515" y="298">phosphorus</text></g>
<g id="b-meta-analysis"><circle class="n g" cx="1351" cy="301" r="6.5"/><text class="l" x="1351" y="315">meta-analysis</text></g>
<g id="b-grassland"><circle class="n g" cx="1413" cy="295" r="6.5"/><text class="l" x="1413" y="308">grassland</text></g>
<g id="b-nitrogen"><circle class="n g" cx="1451" cy="197" r="7.5"/><text class="m" x="1451" y="212.5" font-size="11">nitrogen</text></g>
<g id="b-invasive-species"><circle class="n b" cx="1110" cy="281" r="6.5"/><text class="l" x="1110" y="295">invasive species</text></g>
<g id="b-species-richness"><circle class="n b" cx="1133" cy="334" r="6.5"/><text class="l" x="1133" y="348">species richness</text></g>
<g id="b-pollination"><circle class="n b" cx="986" cy="339" r="6.5"/><text class="l" x="986" y="353">pollination</text></g>
<g id="b-dispersal"><circle class="n b" cx="1047" cy="361" r="6.5"/><text class="l" x="1047" y="374">dispersal</text></g>
<g id="b-conservation"><circle class="n b" cx="1120" cy="371" r="6.5"/><text class="l" x="1120" y="385">conservation</text></g>
<g id="b-habitat"><circle class="n b" cx="961" cy="374" r="6.5"/><text class="l" x="961" y="388">habitat</text></g>
<g id="b-landscape"><circle class="n b" cx="1024" cy="399" r="6.5"/><text class="l" x="1024" y="413">landscape</text></g>
<g id="b-restoration"><circle class="n b" cx="1129" cy="400" r="6.5"/><text class="l" x="1129" y="415">restoration</text></g>
<g id="b-connectivity"><circle class="n b" cx="1062" cy="434" r="6.5"/><text class="l" x="1062" y="448">connectivity</text></g>
<g id="b-ecosystem"><circle class="n b" cx="1225" cy="310" r="6.5"/><text class="l" x="1229" y="323.5">ecosystem</text></g>
<g id="b-agriculture"><circle class="n b" cx="1207" cy="354" r="6.5"/><text class="l" x="1207" y="368">agriculture</text></g>
<g id="b-management"><circle class="n b" cx="1251" cy="360" r="6.5"/><text class="l" x="1251" y="374">management</text></g>
<g id="b-china"><circle class="n b" cx="1308" cy="374" r="6.5"/><text class="l" x="1308" y="387">china</text></g>
<g id="b-land-use"><circle class="n b" cx="1247" cy="396" r="6.5"/><text class="l" x="1247" y="410">land use</text></g>
<g id="b-urbanization"><circle class="n b" cx="1198" cy="419" r="6.5"/><text class="l" x="1198" y="433">urbanization</text></g>
<g id="b-ecosystem-services"><circle class="n b" cx="1168" cy="302" r="7"/><text class="d" x="1162" y="317" font-size="10.5">ecosystem services</text></g>
<g id="b-biodiversity"><circle class="n b" cx="1074" cy="311" r="11.8"/><text class="k" x="1074" y="335" font-size="16">biodiversity</text></g>
<g id="b-climate-change"><circle class="n r" cx="1179" cy="186" r="18"/><text class="k" x="1178.5" y="222.5" font-size="26">climate change</text></g>
</g>

<!-- ================= PANEL C ================= -->
<g id="c-edges" class="E">
<path class="ek" d="M312,673L334,718"/><path class="ek" d="M312,673Q300,720 274,752"/><path class="ek" d="M198,780Q200,720 231,661"/><path class="ek" d="M514,803Q520,700 532,611"/><path class="ek" d="M593,821L534,710"/><path class="ek" d="M593,821L639,752"/><path class="ek" d="M587,861L639,752"/><path class="ek" d="M514,803L399,670"/><path class="ek" d="M346,776Q300,700 271,592"/><path class="ek" d="M606,558L431,730"/><path class="ek" d="M629,593L532,611"/><path class="ek" d="M732,665Q700,600 629,593"/><path class="ek" d="M688,626L532,611"/><path class="ek" d="M55,603Q250,700 334,718"/><path class="ek" d="M288,863Q350,790 431,730"/><path class="ek" d="M283,804L431,730"/><path class="ek" d="M274,752Q350,740 431,730"/><path class="ek" d="M198,780L288,863"/><path class="ek" d="M606,558L685,569"/><path class="ek" d="M685,569L629,593"/><path class="ek" d="M629,593Q660,680 639,752"/><path class="ek" d="M346,776L431,730"/><path class="ek" d="M120,658Q300,700 346,776"/><path class="ek" d="M231,661L274,752"/><path class="ek" d="M177,543Q230,600 312,673"/><path class="ek" d="M261,527L436,534"/><path class="ek" d="M366,559L532,611"/><path class="ek" d="M514,803L593,821"/><path class="ek" d="M438,782L534,710"/><path class="ek" d="M677,852L593,821"/><path class="ek" d="M679,691L628,664"/>
<path class="sk" stroke-width="3" stroke-opacity=".4" d="M271,592L274,752"/>
<path class="sk" stroke-width="1.3" d="M271,592Q400,590 532,611"/>
<path class="sk" stroke-width="1.3" d="M271,592Q350,660 431,730"/>
<path class="sk" stroke-width="1" d="M271,592L437,579"/>
<path class="sk" stroke-width=".8" d="M271,592L436,534"/>
<path class="sk" stroke-width="1" d="M271,592Q420,640 534,710"/>
<path class="sk" stroke-width="1.5" d="M271,592Q450,680 639,752"/>
<path class="sk" stroke-width="1" d="M177,543Q360,560 532,611"/>
<path class="sk" stroke-width=".9" d="M177,543Q320,560 437,579"/>
<path class="sk" stroke-width=".9" d="M177,543Q330,620 431,730"/>
<path class="sk" stroke-width=".7" d="M120,658L628,664"/>
<path class="sk" stroke-width="1.5" d="M274,752Q460,715 639,752"/>
<path class="sk" stroke-width=".8" d="M274,752L532,611"/>
<path class="sk" stroke-width="1.2" d="M431,730Q540,740 639,752"/>
<path class="sk" stroke-width="1.2" d="M532,611L639,752"/>
<path class="sk" stroke-width=".8" d="M534,710L639,752"/>
<path class="sk" stroke-width=".8" d="M628,664L639,752"/>
<path class="sr" stroke-width="1" d="M115,520Q190,518 261,527"/>
<path class="sr" stroke-width="2" d="M115,520Q200,545 271,592"/>
<path class="sr" stroke-width="3.5" d="M177,543L271,592"/>
<path class="sr" stroke-width="1" d="M261,527L271,592"/>
<path class="sr" stroke-width="1.5" d="M331,515Q305,560 271,592"/>
<path class="sr" stroke-width="1" d="M366,559L271,592"/>
<path class="sr" stroke-width="1" d="M87,567L271,592"/>
<path class="sr" stroke-width="1.5" d="M55,603L271,592"/>
<path class="sr" stroke-width="1.5" d="M120,658Q190,615 271,592"/>
<path class="sr" stroke-width="2" d="M312,673Q300,630 271,592"/>
<path class="sr" stroke-width="1" d="M120,658Q140,590 177,543"/>
<path class="sr" stroke-width=".8" d="M87,567L120,658"/>
<path class="sr" stroke-width=".8" d="M55,603L120,658"/>
<path class="sr" stroke-width=".8" d="M55,603Q95,640 113,701"/>
<path class="sr" stroke-width=".8" d="M87,567L113,701"/>
<path class="sr" stroke-width=".8" d="M120,658L113,701"/>
<path class="sr" stroke-width="1.5" d="M45,684Q85,683 113,701"/>
<path class="sr" stroke-width="1" d="M231,661Q225,705 184,719"/>
<path class="sr" stroke-width=".8" d="M55,603Q130,640 184,719"/>
<path class="sr" stroke-width=".8" d="M177,543Q140,610 113,701"/>
<path class="sp" stroke-width="4" d="M436,534Q470,590 532,611"/>
<path class="sp" stroke-width="4" d="M566,519Q560,585 532,611"/>
<path class="sp" stroke-width="1.8" d="M436,534Q500,515 566,519"/>
<path class="sp" stroke-width="4" d="M399,670Q402,715 431,730"/>
<path class="sp" stroke-width="2.5" d="M532,611Q600,625 628,664"/>
<path class="sp" stroke-width="3" d="M534,710Q600,705 628,664"/>
<path class="sp" stroke-width="1.2" d="M532,611L534,710"/>
<path class="sp" stroke-width="1.2" d="M532,611Q460,650 431,730"/>
<path class="sp" stroke-width="1" d="M437,579L431,730"/>
<path class="sp" stroke-width="1" d="M436,534L437,579"/>
<path class="sp" stroke-width="1" d="M516,660Q460,690 431,730"/>
<path class="sp" stroke-width=".8" d="M516,660L628,664"/>
<path class="sp" stroke-width=".8" d="M399,670L628,664"/>
<path class="sp" stroke-width=".8" d="M534,710L431,730"/>
<path class="sp" stroke-width=".8" d="M399,670Q450,620 532,611"/>
<path class="sp" stroke-width=".8" d="M437,579L532,611"/>
<path class="sp" stroke-width=".8" d="M334,718Q390,740 431,730"/>
<path class="so" stroke-width="1.5" d="M606,558L629,593"/>
<path class="so" stroke-width="2.5" d="M629,593Q660,615 688,626"/>
<path class="so" stroke-width="2" d="M685,569L688,626"/>
<path class="sb" stroke-width="3" d="M639,752Q700,710 732,665"/>
<path class="sb" stroke-width="1.5" d="M639,752L679,691"/>
<path class="sb" stroke-width="1" d="M639,752L727,736"/>
<path class="sb" stroke-width="2" d="M639,752L715,810"/>
<path class="sb" stroke-width="1.5" d="M639,752Q665,800 677,852"/>
<path class="sg" stroke-width="1.5" d="M274,752Q230,752 198,780"/>
<path class="sg" stroke-width="1.2" d="M274,752L283,804"/>
<path class="sg" stroke-width="1.5" d="M274,752Q345,790 404,869"/>
<path class="sg" stroke-width="1" d="M283,804L288,863"/>
<path class="sg" stroke-width="1.5" d="M283,804Q360,790 438,782"/>
<path class="sg" stroke-width="1.2" d="M288,863Q400,848 516,847"/>
<path class="sg" stroke-width="3" d="M419,821L404,869"/>
<path class="sg" stroke-width="1.5" d="M419,821Q470,803 514,803"/>
<path class="sg" stroke-width="1.2" d="M438,782Q540,790 593,821"/>
<path class="sg" stroke-width="1.5" d="M404,869Q460,852 516,847"/>
<path class="sg" stroke-width="1" d="M516,847L587,861"/>
<path class="sg" stroke-width="1" d="M419,821L516,847"/>
<path class="sg" stroke-width="1" d="M346,776L404,869"/>
<path class="sg" stroke-width=".8" d="M283,804L419,821"/>
<path class="sg" stroke-width=".6" d="M288,863L346,776"/>
<path class="sg" stroke-width=".8" d="M346,776L438,782"/>
<path class="sg" stroke-width=".8" d="M288,863Q340,875 404,869"/>
</g>
<g id="c-nodes" class="fc">
<g id="c-regeneration"><circle class="n r" cx="115" cy="520" r="9.5"/><text class="l" x="115" y="535.5">regeneration</text></g>
<g id="c-nothofagus"><circle class="n r" cx="261" cy="527" r="9.5"/><text class="l" x="261" y="543.5">nothofagus</text></g>
<g id="c-chile"><circle class="n r" cx="331" cy="515" r="9.5"/><text class="l" x="331" y="530.5">chile</text></g>
<g id="c-new-zealand"><circle class="n r" cx="87" cy="567" r="9.5"/><text class="l" x="87" y="583.5">new zealand</text></g>
<g id="c-biodiversity"><circle class="n r" cx="366" cy="559" r="9.5"/><text class="l" x="366" y="575.5">biodiversity</text></g>
<g id="c-seed-dispersal"><circle class="n r" cx="55" cy="603" r="9.5"/><text class="l" x="55" y="619.5">seed dispersal</text></g>
<g id="c-forest-dynamics"><circle class="n r" cx="120" cy="658" r="9.5"/><text class="l" x="120" y="675.5">forest dynamics</text></g>
<g id="c-reproduction"><circle class="n r" cx="231" cy="661" r="9.5"/><text class="l" x="231" y="677.5">reproduction</text></g>
<g id="c-soil"><circle class="n r" cx="312" cy="673" r="9.5"/><text class="l" x="312" y="688.5">soil</text></g>
<g id="c-dispersal"><circle class="n r" cx="45" cy="684" r="9.5"/><text class="l" x="45" y="700.5">dispersal</text></g>
<g id="c-colonization"><circle class="n r" cx="113" cy="701" r="9.5"/><text class="l" x="113" y="717.5">colonization</text></g>
<g id="c-phenology"><circle class="n r" cx="184" cy="719" r="9.5"/><text class="l" x="184" y="736.5">phenology</text></g>
<g id="c-habitat"><circle class="n p" cx="334" cy="718" r="9.5"/><text class="l" x="334" y="734.5">habitat</text></g>
<g id="c-reef-fish"><circle class="n p" cx="436" cy="534" r="9.5"/><text class="l" x="436" y="549.5">reef fish</text></g>
<g id="c-habitat-structure"><circle class="n p" cx="566" cy="519" r="9.5"/><text class="l" x="566" y="534.5">habitat structure</text></g>
<g id="c-population-dynamics"><circle class="n p" cx="437" cy="579" r="9.5"/><text class="l" x="437" y="595.5">population dynamics</text></g>
<g id="c-mortality"><circle class="n p" cx="399" cy="670" r="9.5"/><text class="l" x="399" y="684.5">mortality</text></g>
<g id="c-shade-tolerance"><circle class="n p" cx="516" cy="660" r="9.5"/><text class="l" x="516" y="676.5">shade tolerance</text></g>
<g id="c-seasonality"><circle class="n o" cx="606" cy="558" r="9.5"/><text class="l" x="606" y="574.5">seasonality</text></g>
<g id="c-seagrass"><circle class="n o" cx="685" cy="569" r="9.5"/><text class="l" x="685" y="586.5">seagrass</text></g>
<g id="c-succession"><circle class="n b" cx="732" cy="665" r="9.5"/><text class="l" x="732" y="681.5">succession</text></g>
<g id="c-community-structure"><circle class="n b" cx="679" cy="691" r="9.5"/><text class="k" x="675" y="712" font-size="10">community structure</text></g>
<g id="c-distribution"><circle class="n b" cx="727" cy="736" r="9.5"/><text class="l" x="727" y="752.5">distribution</text></g>
<g id="c-fish"><circle class="n b" cx="715" cy="810" r="9.5"/><text class="l" x="715" y="825.5">fish</text></g>
<g id="c-biogeography"><circle class="n b" cx="677" cy="852" r="9.5"/><text class="l" x="677" y="868.5">biogeography</text></g>
<g id="c-decomposition"><circle class="n g" cx="198" cy="780" r="9.5"/><text class="l" x="198" y="796.5">decomposition</text></g>
<g id="c-climate"><circle class="n g" cx="346" cy="776" r="9.5"/><text class="l" x="346" y="792.5">climate</text></g>
<g id="c-temperature"><circle class="n g" cx="283" cy="804" r="9.5"/><text class="m" x="283" y="822.5" font-size="14">temperature</text></g>
<g id="c-grasslands"><circle class="n g" cx="288" cy="863" r="9.5"/><text class="l" x="288" y="879.5">grasslands</text></g>
<g id="c-climate-change"><circle class="n g" cx="438" cy="782" r="9.5"/><text class="l" x="438" y="797.5">climate change</text></g>
<g id="c-grazing"><circle class="n g" cx="514" cy="803" r="9.5"/><text class="l" x="514" y="818.5">grazing</text></g>
<g id="c-phytoplankton"><circle class="n g" cx="419" cy="821" r="9.5"/><text class="l" x="419" y="837.5">phytoplankton</text></g>
<g id="c-productivity"><circle class="n g" cx="593" cy="821" r="9.5"/><text class="l" x="593" y="837.5">productivity</text></g>
<g id="c-production"><circle class="n g" cx="516" cy="847" r="9.5"/><text class="m" x="516" y="863.6" font-size="15">production</text></g>
<g id="c-biomass"><circle class="n g" cx="587" cy="861" r="9.5"/><text class="l" x="587" y="876.5">biomass</text></g>
<g id="c-photosynthesis"><circle class="n g" cx="404" cy="869" r="9.7"/><text class="d" x="404" y="889" font-size="17">photosynthesis</text></g>
<g id="c-herbivory"><circle class="n o" cx="629" cy="593" r="10.8"/><text class="d" x="629" y="611.6" font-size="16">herbivory</text></g>
<g id="c-australia"><circle class="n o" cx="688" cy="626" r="12.7"/><text class="d" x="688" y="644" font-size="17">australia</text></g>
<g id="c-predation"><circle class="n p" cx="628" cy="664" r="11.4"/><text class="d" x="628" y="680.6" font-size="15.9">predation</text></g>
<g id="c-competition"><circle class="n p" cx="534" cy="710" r="13"/><text class="d" x="534" y="730.7" font-size="19.4">competition</text></g>
<g id="c-growth"><circle class="n p" cx="431" cy="730" r="16.5"/><text class="k" x="431" y="753" font-size="23">growth</text></g>
<g id="c-recruitment"><circle class="n p" cx="532" cy="611" r="18.3"/><text class="k" x="532" y="638.4" font-size="25.5">recruitment</text></g>
<g id="c-nitrogen"><circle class="n g" cx="274" cy="752" r="15.6"/><text class="k" x="274" y="775.8" font-size="21.4">nitrogen</text></g>
<g id="c-species-richness"><circle class="n b" cx="639" cy="752" r="22.4"/><text class="k" x="639" y="781.4" font-size="31">species richness</text></g>
<g id="c-disturbance"><circle class="n r" cx="177" cy="543" r="15.8"/><text class="k" x="177" y="565.7" font-size="22">disturbance</text></g>
<g id="c-temperate-forest"><circle class="n r" cx="271" cy="592" r="27"/><text class="k" x="271" y="628.5" font-size="38.6">temperate forest</text></g>
</g>

<!-- ================= PANEL D ================= -->
<g id="d-edges" class="E">
<path class="ep" d="M1020,531L958,570"/><path class="ep" d="M1020,531L904,594"/><path class="ep" d="M1099,543L1026,586"/><path class="ep" d="M958,570L1026,586"/><path class="ep" d="M958,570L961,622"/><path class="ep" d="M904,594L961,622"/><path class="ep" d="M840,611L961,622"/><path class="ep" d="M840,611L840,645"/><path class="ep" d="M1026,586L1099,600"/><path class="ep" d="M1026,586L961,622"/><path class="ep" d="M1026,586L1009,639"/><path class="ep" d="M1026,586L1077,666"/><path class="ep" d="M1099,600L1136,635"/><path class="ep" d="M1099,600L1077,666"/><path class="ep" d="M961,622L1009,639"/><path class="ep" d="M961,622L907,664"/><path class="ep" d="M907,664L1077,666"/><path class="ep" d="M1009,639L1077,666"/><path class="ep" d="M904,594L907,664"/><path class="ep" d="M958,570L1009,639"/><path class="ep" d="M1099,543L1099,600"/><path class="ep" d="M1020,531Q1060,520 1099,543"/><path class="ep" d="M840,611L1026,586"/><path class="ep" d="M840,645L961,622"/><path class="ep" d="M1136,635L1077,666"/><path class="ep" d="M840,611L1099,600"/><path class="ep" d="M840,611Q900,540 1020,531"/>
<path class="eg" d="M909,713L972,741"/><path class="eg" d="M909,713L1071,738"/><path class="eg" d="M859,745L828,799"/><path class="eg" d="M859,745L915,788"/><path class="eg" d="M859,745L917,830"/><path class="eg" d="M972,741L997,811"/><path class="eg" d="M972,741L917,830"/><path class="eg" d="M972,741L828,799"/><path class="eg" d="M915,788L917,830"/><path class="eg" d="M828,799L1034,775"/><path class="eg" d="M1034,775L1071,738"/><path class="eg" d="M1034,775L997,811"/><path class="eg" d="M915,788L1034,775"/><path class="eg" d="M909,713L915,788"/><path class="eg" d="M1071,738L997,811"/>
<path class="er" d="M1228,767L1211,836"/><path class="er" d="M1228,767L1322,836"/><path class="er" d="M1228,767L1383,843"/><path class="er" d="M1228,767L1279,858"/><path class="er" d="M1211,836L1322,836"/><path class="er" d="M1211,836L1279,858"/><path class="er" d="M1279,858L1383,843"/><path class="er" d="M1322,836L1383,843"/><path class="er" d="M1172,879L1279,858"/><path class="er" d="M1118,837L1172,879"/><path class="er" d="M1153,743L1300,742"/><path class="er" d="M1153,743L1118,837"/><path class="er" d="M1300,742L1377,761"/><path class="er" d="M1377,761Q1300,800 1211,836"/><path class="er" d="M1300,742L1322,836"/><path class="er" d="M1172,879Q1300,880 1383,843"/>
<path class="eb" d="M1246,528L1233,567"/><path class="eb" d="M1246,528L1224,601"/><path class="eb" d="M1246,528L1338,598"/><path class="eb" d="M1233,567L1336,557"/><path class="eb" d="M1233,567L1224,601"/><path class="eb" d="M1233,567L1284,628"/><path class="eb" d="M1336,557L1398,552"/><path class="eb" d="M1336,557L1323,667"/><path class="eb" d="M1336,557L1284,628"/><path class="eb" d="M1398,552L1419,593"/><path class="eb" d="M1482,563L1419,593"/><path class="eb" d="M1482,563Q1520,590 1531,643"/><path class="eb" d="M1224,601L1338,598"/><path class="eb" d="M1338,598L1284,628"/><path class="eb" d="M1338,598L1383,668"/><path class="eb" d="M1419,593L1423,636"/><path class="eb" d="M1423,636L1383,668"/><path class="eb" d="M1531,643L1383,668"/><path class="eb" d="M1531,643Q1500,690 1451,704"/><path class="eb" d="M1383,668L1372,725"/><path class="eb" d="M1323,667L1372,725"/><path class="eb" d="M1224,601L1323,667"/><path class="eb" d="M1212,704L1284,628"/><path class="eb" d="M1212,704L1323,667"/><path class="eb" d="M1451,704L1372,725"/><path class="eb" d="M1398,552L1423,636"/><path class="eb" d="M1419,593L1224,601"/><path class="eb" d="M1338,598L1419,593"/><path class="eb" d="M1482,563Q1500,660 1451,704"/>
<path class="ek" d="M961,622L1224,601"/><path class="ek" d="M1026,586L1224,601"/><path class="ek" d="M1099,600L1224,601"/><path class="ek" d="M1099,600L1284,628"/><path class="ek" d="M1099,543L1246,528"/><path class="ek" d="M1099,543L1233,567"/><path class="ek" d="M1136,635L1323,667"/><path class="ek" d="M1136,635L1224,601"/><path class="ek" d="M1077,666L1323,667"/><path class="ek" d="M1077,666L1212,704"/><path class="ek" d="M1009,639L1323,667"/><path class="ek" d="M961,622L1284,628"/><path class="ek" d="M840,611L1224,601"/><path class="ek" d="M840,611Q1000,700 1228,767"/><path class="ek" d="M907,664Q1050,700 1228,767"/><path class="ek" d="M958,570L1153,743"/><path class="ek" d="M1020,531Q1200,500 1336,557"/><path class="ek" d="M904,594L1071,738"/><path class="ek" d="M972,741L1153,743"/><path class="ek" d="M1071,738L1153,743"/><path class="ek" d="M1071,738L1228,767"/><path class="ek" d="M909,713L1228,767"/><path class="ek" d="M1034,775L1228,767"/><path class="ek" d="M1228,767L1212,704"/><path class="ek" d="M1228,767L1284,628"/><path class="ek" d="M1228,767L1323,667"/><path class="ek" d="M1228,767L1372,725"/><path class="ek" d="M1228,767L1233,567"/><path class="ek" d="M1228,767L1246,528"/><path class="ek" d="M1228,767L1224,601"/><path class="ek" d="M1228,767L1338,598"/><path class="ek" d="M1300,742L1372,725"/><path class="ek" d="M1377,761L1451,704"/><path class="ek" d="M1383,843Q1440,790 1451,704"/><path class="ek" d="M1153,743L1212,704"/><path class="ek" d="M997,811L1118,837"/><path class="ek" d="M915,788Q1050,860 1172,879"/><path class="ek" d="M828,799Q1000,720 1153,743"/><path class="ek" d="M840,645L909,713"/><path class="ek" d="M907,664L909,713"/><path class="ek" d="M907,664L972,741"/><path class="ek" d="M1009,639L972,741"/><path class="ek" d="M1077,666L1071,738"/><path class="ek" d="M1136,635L1228,767"/><path class="ek" d="M1009,639L1228,767"/><path class="ek" d="M1099,543Q1300,500 1398,552"/><path class="ek" d="M1136,635L1284,628"/>
<path class="sp" stroke-width="2" d="M1020,531L1026,586"/>
<path class="sp" stroke-width="1.2" d="M904,594Q960,584 1026,586"/>
<path class="sp" stroke-width="2" d="M961,622Q1040,618 1099,600"/>
<path class="sp" stroke-width=".8" d="M840,611L904,594"/>
<path class="sp" stroke-width=".8" d="M840,645Q880,620 904,594"/>
<path class="sp" stroke-width=".8" d="M840,645Q950,670 1077,666"/>
<path class="sg" stroke-width="4.5" d="M859,745L972,741"/>
<path class="sg" stroke-width="4.5" d="M972,741Q1020,748 1034,775"/>
<path class="sg" stroke-width="1" d="M972,741Q935,755 915,788"/>
<path class="sg" stroke-width=".8" d="M859,745Q880,715 909,713"/>
<path class="sg" stroke-width=".7" d="M972,741L1071,738"/>
<path class="sk" stroke-width=".9" d="M961,622L972,741"/>
<path class="sr" stroke-width="3" d="M1228,767Q1150,790 1118,837"/>
<path class="sr" stroke-width="5" d="M1228,767Q1180,810 1172,879"/>
<path class="sr" stroke-width="4" d="M1228,767L1300,742"/>
<path class="sr" stroke-width="1.5" d="M1228,767Q1300,765 1377,761"/>
<path class="sr" stroke-width=".8" d="M1153,743L1228,767"/>
<path class="sk" stroke-width="1.5" d="M1300,742Q1360,720 1383,668"/>
<path class="sb" stroke-width="1.5" d="M1224,601L1284,628"/>
<path class="sb" stroke-width="1.2" d="M1284,628L1323,667"/>
<path class="sb" stroke-width="1.5" d="M1224,601Q1300,665 1383,668"/>
<path class="sb" stroke-width="1.5" d="M1323,667L1383,668"/>
<path class="sb" stroke-width="1" d="M1419,593Q1400,640 1383,668"/>
<path class="sb" stroke-width="1" d="M1383,668L1451,704"/>
<path class="sb" stroke-width=".8" d="M1224,601L1212,704"/>
<path class="sk" stroke-width="1.2" d="M1077,666Q1130,720 1228,767"/>
<path class="sk" stroke-width=".9" d="M961,622Q1100,690 1228,767"/>
<path class="sk" stroke-width=".7" d="M1026,586Q1140,680 1228,767"/>
</g>
<g id="d-nodes" class="fd">
<g id="d-succession"><circle class="n p" cx="1020" cy="531" r="8"/><text class="l" x="1020" y="546.6">succession</text></g>
<g id="d-management"><circle class="n p" cx="1099" cy="543" r="8"/><text class="l" x="1099" y="558.6">management</text></g>
<g id="d-herbivory"><circle class="n p" cx="958" cy="570" r="8"/><text class="l" x="958" y="585.6">herbivory</text></g>
<g id="d-fire"><circle class="n p" cx="904" cy="594" r="8"/><text class="l" x="904" y="610.6">fire</text></g>
<g id="d-climate"><circle class="n p" cx="840" cy="611" r="8"/><text class="l" x="840" y="626.6">climate</text></g>
<g id="d-temperate"><circle class="n p" cx="1099" cy="600" r="8"/><text class="l" x="1099" y="615.6">temperate</text></g>
<g id="d-competition"><circle class="n p" cx="1009" cy="639" r="8"/><text class="l" x="1009" y="653.6">competition</text></g>
<g id="d-invasive-species"><circle class="n p" cx="1136" cy="635" r="8"/><text class="l" x="1136" y="650.6">invasive species</text></g>
<g id="d-node-unlabeled"><circle class="n p" cx="840" cy="645" r="8"/></g>
<g id="d-recruitment"><circle class="n p" cx="907" cy="664" r="8"/><text class="l" x="907" y="679.6">recruitment</text></g>
<g id="d-grassland"><circle class="n p" cx="1077" cy="666" r="8"/><text class="l" x="1077" y="681.6">grassland</text></g>
<g id="d-disturbance"><circle class="n p" cx="1026" cy="586" r="9"/><text class="m" x="1026" y="603" font-size="12.4">disturbance</text></g>
<g id="d-forest"><circle class="n p" cx="961" cy="622" r="9"/><text class="d" x="961" y="640" font-size="12.4">forest</text></g>
<g id="d-soil"><circle class="n g" cx="909" cy="713" r="8"/><text class="l" x="909" y="728.6">soil</text></g>
<g id="d-carbon"><circle class="n g" cx="859" cy="745" r="8"/><text class="l" x="859" y="760.6">carbon</text></g>
<g id="d-temperate-forest"><circle class="n g" cx="1071" cy="738" r="8"/><text class="l" x="1071" y="753.6">temperate forest</text></g>
<g id="d-phosphorus"><circle class="n g" cx="1034" cy="775" r="8"/><text class="l" x="1034" y="789.6">phosphorus</text></g>
<g id="d-decomposition"><circle class="n g" cx="915" cy="788" r="8"/><text class="l" x="915" y="802.6">decomposition</text></g>
<g id="d-global-change"><circle class="n g" cx="828" cy="799" r="8"/><text class="l" x="828" y="814.6">global change</text></g>
<g id="d-photosynthesis"><circle class="n g" cx="997" cy="811" r="8"/><text class="l" x="997" y="825.6">photosynthesis</text></g>
<g id="d-stable-isotopes"><circle class="n g" cx="917" cy="830" r="8"/><text class="l" x="917" y="845.6">stable isotopes</text></g>
<g id="d-nitrogen"><circle class="n g" cx="972" cy="741" r="10"/><text class="d" x="972" y="760.5" font-size="14">nitrogen</text></g>
<g id="d-growth"><circle class="n r" cx="1153" cy="743" r="8"/><text class="l" x="1153" y="758.6">growth</text></g>
<g id="d-drought"><circle class="n r" cx="1118" cy="837" r="8"/><text class="l" x="1118" y="851.6">drought</text></g>
<g id="d-phenology"><circle class="n r" cx="1172" cy="879" r="8"/><text class="l" x="1172" y="893.6">phenology</text></g>
<g id="d-global-warming"><circle class="n r" cx="1377" cy="761" r="8"/><text class="l" x="1377" y="776.6">global warming</text></g>
<g id="d-phytoplankton"><circle class="n r" cx="1211" cy="836" r="8"/><text class="l" x="1211" y="850.6">phytoplankton</text></g>
<g id="d-fish"><circle class="n r" cx="1322" cy="836" r="8"/><text class="l" x="1322" y="850.6">fish</text></g>
<g id="d-seasonality"><circle class="n r" cx="1383" cy="843" r="8"/><text class="l" x="1383" y="857.6">seasonality</text></g>
<g id="d-biomass"><circle class="n r" cx="1279" cy="858" r="8"/><text class="l" x="1279" y="872.6">biomass</text></g>
<g id="d-temperature"><circle class="n r" cx="1300" cy="742" r="8"/><text class="m" x="1300" y="758" font-size="12.2">temperature</text></g>
<g id="d-forest-management"><circle class="n b" cx="1246" cy="528" r="8"/><text class="l" x="1246" y="543.6">forest management</text></g>
<g id="d-functional-traits"><circle class="n b" cx="1233" cy="567" r="8"/><text class="l" x="1233" y="581.6">functional traits</text></g>
<g id="d-plant"><circle class="n b" cx="1336" cy="557" r="8"/><text class="l" x="1336" y="571.6">plant</text></g>
<g id="d-habitat"><circle class="n b" cx="1398" cy="552" r="8"/><text class="l" x="1398" y="566.6">habitat</text></g>
<g id="d-phylogeography"><circle class="n b" cx="1482" cy="563" r="8"/><text class="l" x="1482" y="578.6">phylogeography</text></g>
<g id="d-temperate-forests"><circle class="n b" cx="1338" cy="598" r="8"/><text class="l" x="1338" y="612.6">temperate forests</text></g>
<g id="d-conservation"><circle class="n b" cx="1419" cy="593" r="8"/><text class="l" x="1419" y="607.6">conservation</text></g>
<g id="d-diversity"><circle class="n b" cx="1284" cy="628" r="8"/><text class="l" x="1284" y="644.6">diversity</text></g>
<g id="d-restoration"><circle class="n b" cx="1423" cy="636" r="8"/><text class="l" x="1423" y="651.6">restoration</text></g>
<g id="d-dispersal"><circle class="n b" cx="1531" cy="643" r="8"/><text class="l" x="1531" y="657.6">dispersal</text></g>
<g id="d-species"><circle class="n b" cx="1323" cy="667" r="8"/><text class="l" x="1323" y="681.6">species</text></g>
<g id="d-productivity"><circle class="n b" cx="1212" cy="704" r="8"/><text class="l" x="1212" y="719.6">productivity</text></g>
<g id="d-biogeography"><circle class="n b" cx="1451" cy="704" r="8"/><text class="l" x="1451" y="718.6">biogeography</text></g>
<g id="d-distribution"><circle class="n b" cx="1372" cy="725" r="8"/><text class="l" x="1372" y="740.6">distribution</text></g>
<g id="d-species-richness"><circle class="n b" cx="1224" cy="601" r="8"/><text class="m" x="1224" y="617" font-size="11.9">species richness</text></g>
<g id="d-biodiversity"><circle class="n b" cx="1383" cy="668" r="11.3"/><text class="d" x="1383" y="688" font-size="15.3">biodiversity</text></g>
<g id="d-climate-change"><circle class="n r" cx="1228" cy="767" r="22"/><text class="k" x="1228" y="802" font-size="30.8">climate change</text></g>
</g>

<!-- ================= PANEL E ================= -->
<g id="e-edges" class="E">
<path class="ep" d="M71,1056L149,1065"/><path class="ep" d="M71,1056L53,1114"/><path class="ep" d="M71,1056L152,1105"/><path class="ep" d="M53,1114L149,1065"/><path class="ep" d="M53,1114L152,1105"/><path class="ep" d="M53,1114L162,1149"/><path class="ep" d="M53,1114L256,1073"/><path class="ep" d="M149,1065L196,1034"/><path class="ep" d="M149,1065L152,1105"/><path class="ep" d="M149,1065L256,1073"/><path class="ep" d="M149,1065L248,1127"/><path class="ep" d="M196,1034L256,1073"/><path class="ep" d="M196,1034L162,1149"/><path class="ep" d="M196,1034L152,1105"/><path class="ep" d="M196,1034Q270,1080 288,1166"/><path class="ep" d="M152,1105L98,1199"/><path class="ep" d="M152,1105L248,1127"/><path class="ep" d="M152,1105L288,1166"/><path class="ep" d="M162,1149L248,1127"/><path class="ep" d="M162,1149L288,1166"/><path class="ep" d="M162,1149L199,1187"/><path class="ep" d="M162,1149L98,1199"/><path class="ep" d="M199,1187L166,1222"/><path class="ep" d="M199,1187L288,1166"/><path class="ep" d="M98,1199L166,1222"/><path class="ep" d="M248,1127L288,1166"/><path class="ep" d="M256,1073L248,1127"/><path class="ep" d="M256,1073L162,1149"/><path class="ep" d="M196,1034L166,1222"/><path class="ep" d="M166,1222L288,1166"/><path class="ep" d="M71,1056Q150,1020 196,1034"/>
<path class="eb" d="M352,968L296,982"/><path class="eb" d="M352,968L447,964"/><path class="eb" d="M296,982L293,1026"/><path class="eb" d="M296,982L343,1070"/><path class="eb" d="M293,1026L343,1070"/><path class="eb" d="M343,1070L397,1105"/><path class="eb" d="M397,1105L479,1085"/><path class="eb" d="M447,964L521,967"/><path class="eb" d="M521,967L544,1007"/><path class="eb" d="M544,1007L479,1085"/><path class="eb" d="M447,964L544,1007"/><path class="eb" d="M293,1026L397,1105"/><path class="eb" d="M296,982L397,1105"/><path class="eb" d="M352,968L397,1105"/><path class="eb" d="M352,968L343,1070"/>
<path class="eg" d="M615,993L674,1017"/><path class="eg" d="M615,993L610,1042"/><path class="eg" d="M674,1017L559,1061"/><path class="eg" d="M615,993L559,1061"/>
<path class="er" d="M712,1056L662,1100"/><path class="er" d="M712,1056L721,1141"/><path class="er" d="M712,1056L699,1195"/><path class="er" d="M584,1100L662,1100"/><path class="er" d="M584,1100L618,1157"/><path class="er" d="M584,1100L614,1243"/><path class="er" d="M584,1100L641,1311"/><path class="er" d="M662,1100L721,1141"/><path class="er" d="M662,1100L618,1157"/><path class="er" d="M662,1100L614,1243"/><path class="er" d="M662,1100L692,1255"/><path class="er" d="M721,1141L692,1255"/><path class="er" d="M721,1141L733,1232"/><path class="er" d="M618,1157L699,1195"/><path class="er" d="M618,1157L614,1243"/><path class="er" d="M699,1195L733,1232"/><path class="er" d="M699,1195L692,1255"/><path class="er" d="M699,1195L727,1287"/><path class="er" d="M699,1195L614,1243"/><path class="er" d="M692,1255L727,1287"/><path class="er" d="M692,1255L641,1311"/><path class="er" d="M614,1243L641,1311"/><path class="er" d="M558,1258L641,1311"/><path class="er" d="M558,1258L614,1243"/><path class="er" d="M558,1258Q650,1290 727,1287"/><path class="er" d="M558,1258L618,1157"/><path class="er" d="M500,1125L618,1157"/><path class="er" d="M500,1125L662,1100"/><path class="er" d="M500,1125L721,1141"/><path class="er" d="M441,1185L641,1311"/><path class="er" d="M441,1185L727,1287"/><path class="er" d="M441,1185L733,1232"/><path class="er" d="M441,1185L584,1100"/><path class="er" d="M441,1185L712,1056"/><path class="er" d="M558,1258L733,1232"/><path class="er" d="M614,1243L692,1255"/><path class="er" d="M584,1100L721,1141"/>
<path class="eo" d="M351,1248L369,1290"/><path class="eo" d="M351,1248L301,1297"/><path class="eo" d="M351,1248L441,1250"/><path class="eo" d="M246,1267L301,1297"/><path class="eo" d="M246,1267L369,1290"/><path class="eo" d="M246,1267L351,1248"/><path class="eo" d="M369,1290L368,1325"/><path class="eo" d="M369,1290L458,1322"/><path class="eo" d="M441,1250L444,1285"/><path class="eo" d="M441,1250L458,1322"/><path class="eo" d="M444,1285L458,1322"/><path class="eo" d="M301,1297Q370,1250 441,1250"/><path class="eo" d="M246,1267Q350,1230 441,1250"/><path class="eo" d="M444,1285L368,1325"/>
<path class="ek" d="M441,1185L343,1070"/><path class="ek" d="M441,1185L293,1026"/><path class="ek" d="M441,1185L296,982"/><path class="ek" d="M441,1185L352,968"/><path class="ek" d="M441,1185L447,964"/><path class="ek" d="M441,1185L521,967"/><path class="ek" d="M441,1185L544,1007"/><path class="ek" d="M441,1185L479,1085"/><path class="ek" d="M441,1185L610,1042"/><path class="ek" d="M441,1185L559,1061"/><path class="ek" d="M441,1185L615,993"/><path class="ek" d="M441,1185L674,1017"/><path class="ek" d="M441,1185L351,1248"/><path class="ek" d="M441,1185L369,1290"/><path class="ek" d="M441,1185L441,1250"/><path class="ek" d="M441,1185L444,1285"/><path class="ek" d="M441,1185L458,1322"/><path class="ek" d="M441,1185L246,1267"/><path class="ek" d="M441,1185L301,1297"/><path class="ek" d="M441,1185L368,1325"/><path class="ek" d="M441,1185L248,1127"/><path class="ek" d="M441,1185Q300,1050 196,1034"/><path class="ek" d="M441,1185L152,1105"/><path class="ek" d="M441,1185L199,1187"/><path class="ek" d="M429,1021Q300,1000 196,1034"/><path class="ek" d="M429,1021L149,1065"/><path class="ek" d="M429,1021L288,1166"/><path class="ek" d="M429,1021L615,993"/><path class="ek" d="M429,1021L610,1042"/><path class="ek" d="M429,1021L559,1061"/><path class="ek" d="M429,1021L500,1125"/><path class="ek" d="M429,1021L584,1100"/><path class="ek" d="M397,1105L500,1125"/><path class="ek" d="M397,1105L558,1258"/><path class="ek" d="M397,1105L162,1149"/><path class="ek" d="M397,1105L256,1073"/><path class="ek" d="M558,1258L441,1250"/><path class="ek" d="M558,1258L444,1285"/><path class="ek" d="M558,1258L369,1290"/><path class="ek" d="M500,1125L610,1042"/><path class="ek" d="M610,1042Q640,1060 662,1100"/><path class="ek" d="M559,1061L558,1258"/><path class="ek" d="M521,967L662,1100"/><path class="ek" d="M544,1007L712,1056"/><path class="ek" d="M447,964L615,993"/><path class="ek" d="M521,967L615,993"/><path class="ek" d="M615,993L712,1056"/><path class="ek" d="M674,1017L712,1056"/><path class="ek" d="M674,1017L662,1100"/><path class="ek" d="M296,982L256,1073"/><path class="ek" d="M293,1026L196,1034"/><path class="ek" d="M352,968Q250,990 196,1034"/><path class="ek" d="M288,1166L351,1248"/><path class="ek" d="M166,1222Q200,1250 246,1267"/><path class="ek" d="M246,1267L256,1073"/><path class="ek" d="M351,1248L558,1258"/><path class="ek" d="M368,1325L558,1258"/><path class="ek" d="M500,1125L479,1085"/><path class="ek" d="M53,1114Q200,1000 352,968"/><path class="ek" d="M98,1199Q250,1150 343,1070"/>
<path class="sk" stroke-width="5" stroke-opacity=".4" d="M429,1021L441,1185"/>
<path class="sk" stroke-width="1.2" d="M441,1185L397,1105"/>
<path class="sk" stroke-width=".9" d="M441,1185L288,1166"/>
<path class="sk" stroke-width=".9" d="M441,1185Q330,1090 256,1073"/>
<path class="sk" stroke-width=".9" d="M441,1185Q300,1140 162,1149"/>
<path class="sk" stroke-width=".8" d="M429,1021Q330,1030 256,1073"/>
<path class="sk" stroke-width=".8" d="M429,1021Q280,1070 162,1149"/>
<path class="sb" stroke-width="4" d="M352,968Q380,1005 429,1021"/>
<path class="sb" stroke-width="2" d="M429,1021Q410,1070 397,1105"/>
<path class="sb" stroke-width="1.5" d="M429,1021Q460,1050 479,1085"/>
<path class="sb" stroke-width="1.5" d="M429,1021Q370,1040 343,1070"/>
<path class="sb" stroke-width="1" d="M293,1026L429,1021"/>
<path class="sb" stroke-width="1" d="M296,982L429,1021"/>
<path class="sb" stroke-width="1" d="M447,964L429,1021"/>
<path class="sb" stroke-width=".7" d="M521,967L429,1021"/>
<path class="sb" stroke-width=".7" d="M544,1007L429,1021"/>
<path class="sg" stroke-width="2" d="M559,1061Q580,1045 610,1042"/>
<path class="sg" stroke-width="1" d="M610,1042L674,1017"/>
<path class="sr" stroke-width="3" d="M441,1185Q480,1150 500,1125"/>
<path class="sr" stroke-width="5" d="M441,1185Q510,1220 558,1258"/>
<path class="sr" stroke-width="1.5" d="M441,1185L699,1195"/>
<path class="sr" stroke-width="1.8" d="M441,1185Q580,1220 692,1255"/>
<path class="sr" stroke-width="1" d="M441,1185L721,1141"/>
<path class="sr" stroke-width="1" d="M441,1185L618,1157"/>
<path class="sr" stroke-width="1" d="M441,1185L662,1100"/>
<path class="sr" stroke-width="1" d="M441,1185L614,1243"/>
<path class="sr" stroke-width="2" d="M500,1125L558,1258"/>
<path class="sr" stroke-width="1" d="M500,1125Q620,1130 699,1195"/>
<path class="sr" stroke-width="3" d="M662,1100Q670,1160 699,1195"/>
<path class="sr" stroke-width="1" d="M662,1100L558,1258"/>
<path class="sr" stroke-width="1" d="M721,1141L699,1195"/>
<path class="sr" stroke-width="1" d="M618,1157L721,1141"/>
<path class="sr" stroke-width="1" d="M558,1258L692,1255"/>
<path class="sp" stroke-width="1.5" d="M53,1114Q90,1150 98,1199"/>
<path class="sp" stroke-width="1" d="M152,1105L162,1149"/>
<path class="sp" stroke-width="1.2" d="M162,1149L166,1222"/>
<path class="sp" stroke-width="1" d="M196,1034Q240,1080 248,1127"/>
<path class="sp" stroke-width="1" d="M256,1073L288,1166"/>
<path class="sp" stroke-width=".8" d="M196,1034L149,1065"/>
<path class="so" stroke-width="4" d="M368,1325Q410,1320 458,1322"/>
<path class="so" stroke-width="1.5" d="M301,1297L369,1290"/>
<path class="so" stroke-width="1" d="M369,1290Q400,1255 441,1250"/>
<path class="so" stroke-width="1" d="M369,1290L444,1285"/>
<path class="so" stroke-width="1" d="M301,1297L368,1325"/>
<path class="so" stroke-width=".8" d="M444,1285L458,1322"/>
</g>
<g id="e-nodes" class="fe">
<g id="e-frugivory"><circle class="n b" cx="352" cy="968" r="9"/><text class="l" x="352" y="984.3">frugivory</text></g>
<g id="e-herbivory"><circle class="n b" cx="296" cy="982" r="9"/><text class="l" x="296" y="999.3">herbivory</text></g>
<g id="e-germination"><circle class="n b" cx="293" cy="1026" r="9"/><text class="l" x="293" y="1043.3">germination</text></g>
<g id="e-regeneration"><circle class="n b" cx="343" cy="1070" r="9"/><text class="l" x="343" y="1086.3">regeneration</text></g>
<g id="e-predation"><circle class="n b" cx="447" cy="964" r="9"/><text class="l" x="447" y="980.3">predation</text></g>
<g id="e-competition"><circle class="n b" cx="521" cy="967" r="9"/><text class="l" x="521" y="983.3">competition</text></g>
<g id="e-community-structure"><circle class="n b" cx="544" cy="1007" r="9"/><text class="l" x="544" y="1024.3">community structure</text></g>
<g id="e-seed-predation"><circle class="n b" cx="479" cy="1085" r="9"/><text class="l" x="479" y="1101.3">seed predation</text></g>
<g id="e-mexico"><circle class="n p" cx="196" cy="1034" r="9"/><text class="l" x="196" y="1050.3">mexico</text></g>
<g id="e-tropical-trees"><circle class="n p" cx="71" cy="1056" r="9"/><text class="l" x="71" y="1071.3">tropical trees</text></g>
<g id="e-litterfall"><circle class="n p" cx="149" cy="1065" r="9"/><text class="l" x="149" y="1081.3">litterfall</text></g>
<g id="e-panama"><circle class="n p" cx="256" cy="1073" r="9"/><text class="l" x="256" y="1089.3">panama</text></g>
<g id="e-recruitment"><circle class="n p" cx="53" cy="1114" r="9"/><text class="l" x="53" y="1131.3">recruitment</text></g>
<g id="e-growth"><circle class="n p" cx="152" cy="1105" r="9"/><text class="l" x="152" y="1121.3">growth</text></g>
<g id="e-seasonality"><circle class="n p" cx="248" cy="1127" r="9"/><text class="l" x="248" y="1143.3">seasonality</text></g>
<g id="e-phenology"><circle class="n p" cx="162" cy="1149" r="9"/><text class="l" x="162" y="1166.3">phenology</text></g>
<g id="e-demography"><circle class="n p" cx="288" cy="1166" r="9"/><text class="l" x="288" y="1183.3">demography</text></g>
<g id="e-forest-dynamics"><circle class="n p" cx="199" cy="1187" r="9"/><text class="l" x="199" y="1202.3">forest dynamics</text></g>
<g id="e-mortality"><circle class="n p" cx="98" cy="1199" r="9"/><text class="l" x="98" y="1215.3">mortality</text></g>
<g id="e-reproduction"><circle class="n p" cx="166" cy="1222" r="9"/><text class="l" x="166" y="1238.3">reproduction</text></g>
<g id="e-succession"><circle class="n o" cx="351" cy="1248" r="9"/><text class="l" x="351" y="1264.3">succession</text></g>
<g id="e-photosynthesis"><circle class="n o" cx="246" cy="1267" r="9"/><text class="l" x="246" y="1282.3">photosynthesis</text></g>
<g id="e-fire"><circle class="n o" cx="301" cy="1297" r="9"/><text class="l" x="301" y="1313.3">fire</text></g>
<g id="e-savanna"><circle class="n o" cx="369" cy="1290" r="9"/><text class="l" x="369" y="1306.3">savanna</text></g>
<g id="e-phosphorus"><circle class="n o" cx="368" cy="1325" r="9"/><text class="l" x="368" y="1341.3">phosphorus</text></g>
<g id="e-nutrients"><circle class="n o" cx="441" cy="1250" r="9"/><text class="l" x="441" y="1266.3">nutrients</text></g>
<g id="e-biomass"><circle class="n o" cx="444" cy="1285" r="9"/><text class="l" x="444" y="1301.3">biomass</text></g>
<g id="e-nitrogen"><circle class="n o" cx="458" cy="1322" r="9"/><text class="l" x="458" y="1338.3">nitrogen</text></g>
<g id="e-ecology"><circle class="n g" cx="615" cy="993" r="9"/><text class="l" x="615" y="1009.3">ecology</text></g>
<g id="e-neotropics"><circle class="n g" cx="674" cy="1017" r="9"/><text class="l" x="674" y="1033.3">neotropics</text></g>
<g id="e-amazon"><circle class="n g" cx="610" cy="1042" r="9"/><text class="l" x="610" y="1058.3">amazon</text></g>
<g id="e-brazil"><circle class="n g" cx="559" cy="1061" r="9"/><text class="m" x="555" y="1079.6" font-size="19.7">brazil</text></g>
<g id="e-biogeography"><circle class="n r" cx="712" cy="1056" r="9"/><text class="l" x="712" y="1071.3">biogeography</text></g>
<g id="e-soil"><circle class="n r" cx="584" cy="1100" r="9"/><text class="l" x="584" y="1116.3">soil</text></g>
<g id="e-biodiversity"><circle class="n r" cx="662" cy="1100" r="9"/><text class="l" x="662" y="1115.3">biodiversity</text></g>
<g id="e-fragmentation"><circle class="n r" cx="721" cy="1141" r="9"/><text class="l" x="721" y="1156.3">fragmentation</text></g>
<g id="e-deforestation"><circle class="n r" cx="618" cy="1157" r="9"/><text class="l" x="618" y="1173.3">deforestation</text></g>
<g id="e-conservation"><circle class="n r" cx="699" cy="1195" r="9"/><text class="m" x="699" y="1211.8" font-size="14.4">conservation</text></g>
<g id="e-africa"><circle class="n r" cx="733" cy="1232" r="9"/><text class="l" x="733" y="1248.3">africa</text></g>
<g id="e-ants"><circle class="n r" cx="614" cy="1243" r="9"/><text class="l" x="614" y="1259.3">ants</text></g>
<g id="e-australia"><circle class="n r" cx="692" cy="1255" r="9"/><text class="l" x="692" y="1271.3">australia</text></g>
<g id="e-venezuela"><circle class="n r" cx="727" cy="1287" r="9"/><text class="l" x="727" y="1303.3">venezuela</text></g>
<g id="e-pollination"><circle class="n r" cx="641" cy="1311" r="9"/><text class="l" x="641" y="1328.3">pollination</text></g>
<g id="e-disturbance"><circle class="n r" cx="500" cy="1125" r="9"/><text class="d" x="500" y="1144.5" font-size="16.6">disturbance</text></g>
<g id="e-costa-rica"><circle class="n b" cx="397" cy="1105" r="12"/><text class="d" x="397" y="1127.4" font-size="19">costa rica</text></g>
<g id="e-seed-dispersal"><circle class="n b" cx="429" cy="1021" r="17.3"/><text class="k" x="429.5" y="1048" font-size="24.8">seed dispersal</text></g>
<g id="e-species-richness"><circle class="n r" cx="558" cy="1258" r="15.8"/><text class="k" x="558" y="1282.8" font-size="22.8">species richness</text></g>
<g id="e-tropical-rain-forest"><circle class="n r" cx="441" cy="1185" r="26"/><text class="k" x="441" y="1222.6" font-size="36.4">tropical rain forest</text></g>
</g>

<!-- ================= PANEL F ================= -->
<g id="f-edges" class="E">
<path class="er" d="M961,1114L880,1132"/><path class="er" d="M961,1114L950,1165"/><path class="er" d="M961,1114L1042,1133"/><path class="er" d="M961,1114L960,1221"/><path class="er" d="M880,1132L950,1165"/><path class="er" d="M880,1132L868,1186"/><path class="er" d="M880,1132L838,1221"/><path class="er" d="M880,1132L960,1221"/><path class="er" d="M880,1132L1004,1262"/><path class="er" d="M880,1132L906,1261"/><path class="er" d="M880,1132L1040,1194"/><path class="er" d="M1042,1133L1102,1154"/><path class="er" d="M1042,1133L950,1165"/><path class="er" d="M1042,1133L1040,1194"/><path class="er" d="M1042,1133L1162,1179"/><path class="er" d="M1042,1133L1135,1220"/><path class="er" d="M1102,1154L1162,1179"/><path class="er" d="M1102,1154L1135,1220"/><path class="er" d="M1102,1154L1040,1194"/><path class="er" d="M1102,1154L1097,1289"/><path class="er" d="M950,1165L868,1186"/><path class="er" d="M950,1165L1040,1194"/><path class="er" d="M950,1165L960,1221"/><path class="er" d="M950,1165L1004,1262"/><path class="er" d="M950,1165L906,1261"/><path class="er" d="M950,1165L1135,1220"/><path class="er" d="M868,1186L838,1221"/><path class="er" d="M868,1186L960,1221"/><path class="er" d="M868,1186L1040,1194"/><path class="er" d="M868,1186L906,1261"/><path class="er" d="M868,1186L1004,1262"/><path class="er" d="M838,1221L960,1221"/><path class="er" d="M838,1221L906,1261"/><path class="er" d="M838,1221Q900,1320 1024,1327"/><path class="er" d="M960,1221L1040,1194"/><path class="er" d="M960,1221L1004,1262"/><path class="er" d="M960,1221L906,1261"/><path class="er" d="M960,1221L1024,1327"/><path class="er" d="M960,1221L1135,1220"/><path class="er" d="M1040,1194L1004,1262"/><path class="er" d="M1040,1194L1097,1289"/><path class="er" d="M1040,1194L1162,1179"/><path class="er" d="M906,1261L1004,1262"/><path class="er" d="M906,1261L1024,1327"/><path class="er" d="M1004,1262L1024,1327"/><path class="er" d="M1004,1262L1097,1289"/><path class="er" d="M1004,1262L1135,1220"/><path class="er" d="M1097,1289L1024,1327"/><path class="er" d="M1162,1179L1097,1289"/><path class="er" d="M906,1261Q1020,1290 1135,1220"/><path class="er" d="M961,1114Q1060,1130 1162,1179"/><path class="er" d="M961,1114L868,1186"/><path class="er" d="M906,1261Q1000,1295 1097,1289"/><path class="er" d="M838,1221L1004,1262"/>
<path class="eg" d="M1048,998L1007,1033"/><path class="eg" d="M1048,998L921,1060"/><path class="eg" d="M1048,998L1039,1078"/><path class="eg" d="M1007,1033L921,1060"/><path class="eg" d="M1007,1033L1039,1078"/><path class="eg" d="M921,1060L1039,1078"/><path class="eg" d="M1007,1033L1190,1094"/>
<path class="eo" d="M1142,986L1236,965"/><path class="eo" d="M1142,986Q1220,950 1295,966"/><path class="eo" d="M1142,986L1162,1030"/><path class="eo" d="M1236,965L1295,966"/><path class="eo" d="M1236,965L1224,1016"/><path class="eo" d="M1236,965L1303,1013"/><path class="eo" d="M1236,965L1278,1055"/><path class="eo" d="M1295,966L1303,1013"/><path class="eo" d="M1295,966L1224,1016"/><path class="eo" d="M1162,1030L1224,1016"/><path class="eo" d="M1224,1016L1303,1013"/><path class="eo" d="M1224,1016L1278,1055"/><path class="eo" d="M1162,1030L1278,1055"/><path class="eo" d="M1295,966L1278,1055"/>
<path class="ep" d="M1376,971L1431,994"/><path class="ep" d="M1376,971L1380,1015"/><path class="ep" d="M1376,971L1475,1020"/><path class="ep" d="M1376,971L1426,1044"/><path class="ep" d="M1376,971L1487,1084"/><path class="ep" d="M1431,994L1380,1015"/><path class="ep" d="M1431,994L1475,1020"/><path class="ep" d="M1431,994L1487,1084"/><path class="ep" d="M1431,994Q1500,1050 1529,1128"/><path class="ep" d="M1380,1015L1475,1020"/><path class="ep" d="M1380,1015L1426,1044"/><path class="ep" d="M1380,1015L1364,1070"/><path class="ep" d="M1475,1020L1487,1084"/><path class="ep" d="M1426,1044L1487,1084"/><path class="ep" d="M1426,1044L1364,1070"/><path class="ep" d="M1364,1070L1487,1084"/><path class="ep" d="M1426,1044L1529,1128"/><path class="ep" d="M1380,1015L1487,1084"/>
<path class="eb" d="M1358,1144L1277,1199"/><path class="eb" d="M1358,1144L1357,1200"/><path class="eb" d="M1358,1144L1310,1230"/><path class="eb" d="M1358,1144L1484,1196"/><path class="eb" d="M1358,1144L1253,1281"/><path class="eb" d="M1358,1144L1318,1276"/><path class="eb" d="M1358,1144L1396,1279"/><path class="eb" d="M1358,1144L1477,1264"/><path class="eb" d="M1277,1199L1310,1230"/><path class="eb" d="M1277,1199L1357,1200"/><path class="eb" d="M1357,1200L1427,1221"/><path class="eb" d="M1357,1200L1484,1196"/><path class="eb" d="M1357,1200L1310,1230"/><path class="eb" d="M1310,1230L1253,1281"/><path class="eb" d="M1310,1230L1318,1276"/><path class="eb" d="M1310,1230L1396,1279"/><path class="eb" d="M1427,1221L1484,1196"/><path class="eb" d="M1427,1221L1477,1264"/><path class="eb" d="M1427,1221L1396,1279"/><path class="eb" d="M1427,1221L1318,1276"/><path class="eb" d="M1253,1281L1318,1276"/><path class="eb" d="M1396,1279L1477,1264"/><path class="eb" d="M1484,1196L1477,1264"/><path class="eb" d="M1253,1281Q1320,1300 1396,1279"/><path class="eb" d="M1277,1199Q1350,1195 1427,1221"/>
<path class="ek" d="M1135,1220L1142,986"/><path class="ek" d="M1135,1220L1162,1030"/><path class="ek" d="M1135,1220L1224,1016"/><path class="ek" d="M1135,1220L1278,1055"/><path class="ek" d="M1135,1220L1303,1013"/><path class="ek" d="M1135,1220L1277,1199"/><path class="ek" d="M1135,1220L1310,1230"/><path class="ek" d="M1135,1220L1253,1281"/><path class="ek" d="M1135,1220L1318,1276"/><path class="ek" d="M1135,1220L1357,1200"/><path class="ek" d="M1135,1220L1364,1070"/><path class="ek" d="M1135,1220Q1350,1170 1529,1128"/><path class="ek" d="M1135,1220L1039,1078"/><path class="ek" d="M1135,1220L921,1060"/><path class="ek" d="M1135,1220L1007,1033"/><path class="ek" d="M1135,1220L1048,998"/><path class="ek" d="M1190,1094L1142,986"/><path class="ek" d="M1190,1094L1162,1030"/><path class="ek" d="M1190,1094L1224,1016"/><path class="ek" d="M1190,1094L1236,965"/><path class="ek" d="M1190,1094L1278,1055"/><path class="ek" d="M1190,1094L1303,1013"/><path class="ek" d="M1190,1094L1295,966"/><path class="ek" d="M1190,1094L1364,1070"/><path class="ek" d="M1190,1094L1380,1015"/><path class="ek" d="M1190,1094Q1360,1090 1529,1128"/><path class="ek" d="M1190,1094L1162,1179"/><path class="ek" d="M1190,1094L1102,1154"/><path class="ek" d="M1190,1094L1040,1194"/><path class="ek" d="M1190,1094L961,1114"/><path class="ek" d="M1190,1094L1042,1133"/><path class="ek" d="M1190,1094L950,1165"/><path class="ek" d="M1190,1094L1310,1230"/><path class="ek" d="M1190,1094L1277,1199"/><path class="ek" d="M1190,1094L1253,1281"/><path class="ek" d="M1358,1144L1380,1015"/><path class="ek" d="M1358,1144L1364,1070"/><path class="ek" d="M1358,1144L1487,1084"/><path class="ek" d="M1358,1144L1426,1044"/><path class="ek" d="M1358,1144L1303,1013"/><path class="ek" d="M1358,1144L1278,1055"/><path class="ek" d="M1427,1221L1487,1084"/><path class="ek" d="M1427,1221L1529,1128"/><path class="ek" d="M1427,1221L1426,1044"/><path class="ek" d="M921,1060L961,1114"/><path class="ek" d="M921,1060L880,1132"/><path class="ek" d="M921,1060L950,1165"/><path class="ek" d="M1039,1078L1042,1133"/><path class="ek" d="M1007,1033L961,1114"/><path class="ek" d="M1048,998L1162,1030"/><path class="ek" d="M1048,998L1142,986"/><path class="ek" d="M921,1060Q950,1200 1097,1289"/><path class="ek" d="M1162,1179L1277,1199"/><path class="ek" d="M1097,1289L1253,1281"/><path class="ek" d="M1097,1289L1310,1230"/><path class="ek" d="M1024,1327Q1100,1290 1135,1220"/><path class="ek" d="M1295,966Q1340,950 1376,971"/><path class="ek" d="M1303,1013L1380,1015"/><path class="ek" d="M1278,1055L1364,1070"/><path class="ek" d="M1310,1230L1162,1179"/><path class="ek" d="M1357,1200L1487,1084"/><path class="ek" d="M1426,1044L1484,1196"/><path class="ek" d="M1475,1020L1484,1196"/><path class="ek" d="M1376,971L1358,1144"/><path class="ek" d="M1048,998Q1200,930 1376,971"/><path class="ek" d="M880,1132Q1100,1100 1358,1144"/><path class="ek" d="M1097,1289Q1300,1300 1427,1221"/><path class="ek" d="M880,1132Q1100,1200 1310,1230"/><path class="ek" d="M950,1165Q1100,1180 1277,1199"/><path class="ek" d="M1040,1194Q1200,1140 1358,1144"/><path class="ek" d="M1102,1154L1358,1144"/><path class="ek" d="M1102,1154L1310,1230"/><path class="ek" d="M921,1060Q1150,1000 1376,971"/><path class="ek" d="M1039,1078L1358,1144"/>
<path class="so" stroke-width="4.5" d="M1142,986Q1200,990 1224,1016"/>
<path class="so" stroke-width="1.2" d="M1303,1013L1278,1055"/>
<path class="sb" stroke-width="3.5" d="M1358,1144Q1410,1170 1427,1221"/>
<path class="sg" stroke-width=".9" d="M921,1060L1190,1094"/>
<path class="sg" stroke-width=".9" d="M1039,1078L1190,1094"/>
<path class="sg" stroke-width=".7" d="M1048,998Q1100,1050 1190,1094"/>
<path class="sp" stroke-width="1" d="M1487,1084L1529,1128"/>
<path class="sp" stroke-width="1" d="M1475,1020Q1495,1090 1529,1128"/>
<path class="sr" stroke-width="1" d="M961,1114Q1010,1160 1040,1194"/>
<path class="sr" stroke-width="1.2" d="M1040,1194L1135,1220"/>
<path class="sr" stroke-width=".8" d="M1097,1289L1135,1220"/>
<path class="sr" stroke-width=".8" d="M1135,1220L1162,1179"/>
<path class="sk" stroke-width="1.3" d="M1135,1220L1358,1144"/>
<path class="sk" stroke-width="1.3" d="M1135,1220Q1300,1200 1427,1221"/>
<path class="sk" stroke-width="1" d="M1135,1220L1190,1094"/>
<path class="sk" stroke-width="1.2" d="M1358,1144L1529,1128"/>
<path class="sk" stroke-width="1" d="M1190,1094Q1280,1120 1358,1144"/>
<path class="sb" stroke-width=".9" d="M1310,1230L1427,1221"/>
<path class="sb" stroke-width=".8" d="M1277,1199L1253,1281"/>
<path class="sb" stroke-width=".9" d="M1318,1276L1396,1279"/>
</g>
<g id="f-nodes" class="ff">
<g id="f-temperature"><circle class="n g" cx="1048" cy="998" r="8"/><text class="l" x="1048" y="1011.6">temperature</text></g>
<g id="f-phenology"><circle class="n g" cx="1007" cy="1033" r="8"/><text class="l" x="1007" y="1046.6">phenology</text></g>
<g id="f-drought"><circle class="n g" cx="921" cy="1060" r="8"/><text class="l" x="921" y="1073.6">drought</text></g>
<g id="f-seasonality"><circle class="n g" cx="1039" cy="1078" r="8"/><text class="l" x="1039" y="1092.6">seasonality</text></g>
<g id="f-nitrogen"><circle class="n o" cx="1142" cy="986" r="8"/><text class="l" x="1142" y="999.6">nitrogen</text></g>
<g id="f-biomass"><circle class="n o" cx="1162" cy="1030" r="8"/><text class="l" x="1162" y="1043.6">biomass</text></g>
<g id="f-carbon"><circle class="n o" cx="1236" cy="965" r="8"/><text class="l" x="1236" y="977.6">carbon</text></g>
<g id="f-soil"><circle class="n o" cx="1295" cy="966" r="8"/><text class="l" x="1295" y="979.6">soil</text></g>
<g id="f-phosphorus"><circle class="n o" cx="1224" cy="1016" r="8"/><text class="l" x="1224" y="1030.6">phosphorus</text></g>
<g id="f-savanna"><circle class="n o" cx="1303" cy="1013" r="8"/><text class="l" x="1303" y="1027.6">savanna</text></g>
<g id="f-fire"><circle class="n o" cx="1278" cy="1055" r="8"/><text class="l" x="1278" y="1068.6">fire</text></g>
<g id="f-functional-traits"><circle class="n r" cx="961" cy="1114" r="8"/><text class="l" x="961" y="1127.6">functional traits</text></g>
<g id="f-regeneration"><circle class="n r" cx="880" cy="1132" r="8"/><text class="l" x="880" y="1146.6">regeneration</text></g>
<g id="f-costa-rica"><circle class="n r" cx="1042" cy="1133" r="8"/><text class="l" x="1042" y="1147.6">costa rica</text></g>
<g id="f-mexico"><circle class="n r" cx="1102" cy="1154" r="8"/><text class="l" x="1102" y="1167.6">mexico</text></g>
<g id="f-tropical-rain-forest"><circle class="n r" cx="950" cy="1165" r="8"/><text class="l" x="950" y="1178.6">tropical rain forest</text></g>
<g id="f-competition"><circle class="n r" cx="868" cy="1186" r="8"/><text class="l" x="868" y="1199.6">competition</text></g>
<g id="f-panama"><circle class="n r" cx="1162" cy="1179" r="8"/><text class="l" x="1162" y="1193.6">panama</text></g>
<g id="f-tropical-dry-forest"><circle class="n r" cx="838" cy="1221" r="8"/><text class="l" x="838" y="1234.6">tropical dry forest</text></g>
<g id="f-herbivory"><circle class="n r" cx="960" cy="1221" r="8"/><text class="l" x="960" y="1234.6">herbivory</text></g>
<g id="f-restoration"><circle class="n r" cx="906" cy="1261" r="8"/><text class="l" x="906" y="1274.6">restoration</text></g>
<g id="f-succession"><circle class="n r" cx="1004" cy="1262" r="8"/><text class="l" x="1004" y="1276.6">succession</text></g>
<g id="f-seed-dispersal"><circle class="n r" cx="1097" cy="1289" r="8"/><text class="l" x="1097" y="1303.6">seed dispersal</text></g>
<g id="f-invasive-species"><circle class="n r" cx="1024" cy="1327" r="8"/><text class="l" x="1024" y="1339.6">invasive species</text></g>
<g id="f-disturbance"><circle class="n r" cx="1040" cy="1194" r="8.5"/><text class="d" x="1040" y="1213" font-size="15.5">disturbance</text></g>
<g id="f-africa"><circle class="n p" cx="1376" cy="971" r="8"/><text class="l" x="1376" y="984.6">africa</text></g>
<g id="f-dispersal"><circle class="n p" cx="1431" cy="994" r="8"/><text class="l" x="1431" y="1008.6">dispersal</text></g>
<g id="f-climate"><circle class="n p" cx="1380" cy="1015" r="8"/><text class="l" x="1380" y="1028.6">climate</text></g>
<g id="f-species"><circle class="n p" cx="1475" cy="1020" r="8"/><text class="l" x="1475" y="1034.6">species</text></g>
<g id="f-tropical-forests"><circle class="n p" cx="1426" cy="1044" r="8"/><text class="l" x="1426" y="1058.6">tropical forests</text></g>
<g id="f-biogeography"><circle class="n p" cx="1364" cy="1070" r="8"/><text class="l" x="1364" y="1084.6">biogeography</text></g>
<g id="f-species-richness"><circle class="n p" cx="1487" cy="1084" r="8"/><text class="m" x="1487" y="1099" font-size="12">species richness</text></g>
<g id="f-diversity"><circle class="n p" cx="1529" cy="1128" r="11.3"/><text class="d" x="1529" y="1147" font-size="15.8">diversity</text></g>
<g id="f-brazil"><circle class="n b" cx="1277" cy="1199" r="8"/><text class="l" x="1277" y="1212.6">brazil</text></g>
<g id="f-rainforest"><circle class="n b" cx="1357" cy="1200" r="8"/><text class="l" x="1357" y="1213.6">rainforest</text></g>
<g id="f-birds"><circle class="n b" cx="1484" cy="1196" r="8"/><text class="l" x="1484" y="1209.6">birds</text></g>
<g id="f-remote-sensing"><circle class="n b" cx="1477" cy="1264" r="8"/><text class="l" x="1477" y="1278.6">remote sensing</text></g>
<g id="f-amazon"><circle class="n b" cx="1253" cy="1281" r="8"/><text class="l" x="1253" y="1294.6">amazon</text></g>
<g id="f-habitat"><circle class="n b" cx="1318" cy="1276" r="8"/><text class="l" x="1318" y="1290.6">habitat</text></g>
<g id="f-fragmentation"><circle class="n b" cx="1396" cy="1279" r="8"/><text class="l" x="1396" y="1292.6">fragmentation</text></g>
<g id="f-deforestation"><circle class="n b" cx="1310" cy="1230" r="9"/><text class="m" x="1310" y="1246" font-size="12.7">deforestation</text></g>
<g id="f-conservation"><circle class="n b" cx="1427" cy="1221" r="13"/><text class="k" x="1427" y="1243" font-size="18.2">conservation</text></g>
<g id="f-climate-change"><circle class="n g" cx="1190" cy="1094" r="15"/><text class="k" x="1190" y="1117" font-size="21">climate change</text></g>
<g id="f-biodiversity"><circle class="n b" cx="1358" cy="1144" r="17.6"/><text class="k" x="1358" y="1171.4" font-size="25">biodiversity</text></g>
<g id="f-tropical-forest"><circle class="n r" cx="1135" cy="1220" r="22"/><text class="k" x="1136.5" y="1253.5" font-size="30.5">tropical forest</text></g>
</g>

<g id="panel-letters">
<text class="pl" x="29" y="407">a</text>
<text class="pl" x="815" y="407">b</text>
<text class="pl" x="29" y="873.5">c</text>
<text class="pl" x="814" y="873.5">d</text>
<text class="pl" x="29" y="1300">e</text>
<text class="pl" x="812" y="1300">f</text>
</g>
</g>
</svg>
